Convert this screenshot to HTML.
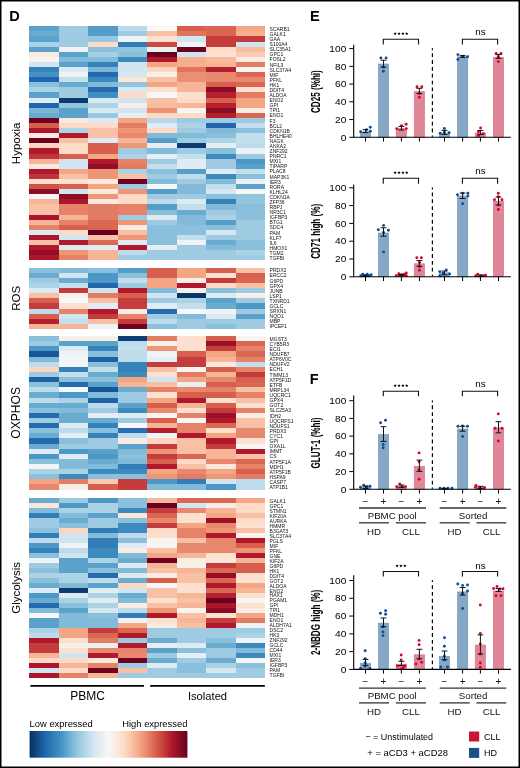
<!DOCTYPE html>
<html><head><meta charset="utf-8"><title>Figure</title>
<style>html,body{margin:0;padding:0;background:#fff;}body{width:520px;height:768px;overflow:hidden;}svg{display:block;will-change:transform;}</style>
</head><body>
<svg width="520" height="768" viewBox="0 0 520 768" font-family="Liberation Sans, sans-serif"><rect x="0" y="0" width="520" height="768" fill="#ffffff"/><g shape-rendering="crispEdges"><rect x="29.20" y="26.30" width="29.81" height="5.39" fill="#5ba2cb"/><rect x="58.71" y="26.30" width="29.81" height="5.39" fill="#9fcbe2"/><rect x="88.23" y="26.30" width="29.81" height="5.39" fill="#539dc8"/><rect x="117.74" y="26.30" width="29.81" height="5.39" fill="#bedbeb"/><rect x="147.25" y="26.30" width="29.81" height="5.39" fill="#f7f7f7"/><rect x="176.76" y="26.30" width="29.81" height="5.39" fill="#d6604d"/><rect x="206.28" y="26.30" width="29.81" height="5.39" fill="#d96752"/><rect x="235.79" y="26.30" width="29.51" height="5.39" fill="#f4a582"/><rect x="29.20" y="31.39" width="29.81" height="5.39" fill="#6aacd0"/><rect x="58.71" y="31.39" width="29.81" height="5.39" fill="#9fcbe2"/><rect x="88.23" y="31.39" width="29.81" height="5.39" fill="#539dc8"/><rect x="117.74" y="31.39" width="29.81" height="5.39" fill="#9fcbe2"/><rect x="147.25" y="31.39" width="29.81" height="5.39" fill="#f8c0a4"/><rect x="176.76" y="31.39" width="29.81" height="5.39" fill="#df755d"/><rect x="206.28" y="31.39" width="29.81" height="5.39" fill="#d96752"/><rect x="235.79" y="31.39" width="29.51" height="5.39" fill="#f6b090"/><rect x="29.20" y="36.48" width="29.81" height="5.39" fill="#5ba2cb"/><rect x="58.71" y="36.48" width="29.81" height="5.39" fill="#9fcbe2"/><rect x="88.23" y="36.48" width="29.81" height="5.39" fill="#98c8e0"/><rect x="117.74" y="36.48" width="29.81" height="5.39" fill="#eff3f6"/><rect x="147.25" y="36.48" width="29.81" height="5.39" fill="#fce1d1"/><rect x="176.76" y="36.48" width="29.81" height="5.39" fill="#d1e5f0"/><rect x="206.28" y="36.48" width="29.81" height="5.39" fill="#c43c3c"/><rect x="235.79" y="36.48" width="29.51" height="5.39" fill="#c43c3c"/><rect x="29.20" y="41.57" width="29.81" height="5.39" fill="#abd2e5"/><rect x="58.71" y="41.57" width="29.81" height="5.39" fill="#9fcbe2"/><rect x="88.23" y="41.57" width="29.81" height="5.39" fill="#fddbc7"/><rect x="117.74" y="41.57" width="29.81" height="5.39" fill="#327cb8"/><rect x="147.25" y="41.57" width="29.81" height="5.39" fill="#cb4a43"/><rect x="176.76" y="41.57" width="29.81" height="5.39" fill="#eff3f6"/><rect x="206.28" y="41.57" width="29.81" height="5.39" fill="#c43c3c"/><rect x="235.79" y="41.57" width="29.51" height="5.39" fill="#d1e5f0"/><rect x="29.20" y="46.66" width="29.81" height="5.39" fill="#5ba2cb"/><rect x="58.71" y="46.66" width="29.81" height="5.39" fill="#eff3f6"/><rect x="88.23" y="46.66" width="29.81" height="5.39" fill="#8ac0db"/><rect x="117.74" y="46.66" width="29.81" height="5.39" fill="#92c5de"/><rect x="147.25" y="46.66" width="29.81" height="5.39" fill="#e8f0f4"/><rect x="176.76" y="46.66" width="29.81" height="5.39" fill="#6e0220"/><rect x="206.28" y="46.66" width="29.81" height="5.39" fill="#fddbc7"/><rect x="235.79" y="46.66" width="29.51" height="5.39" fill="#f8bb9e"/><rect x="29.20" y="51.75" width="29.81" height="5.39" fill="#fae9df"/><rect x="58.71" y="51.75" width="29.81" height="5.39" fill="#5ba2cb"/><rect x="88.23" y="51.75" width="29.81" height="5.39" fill="#a5cfe3"/><rect x="117.74" y="51.75" width="29.81" height="5.39" fill="#8ac0db"/><rect x="147.25" y="51.75" width="29.81" height="5.39" fill="#67001f"/><rect x="176.76" y="51.75" width="29.81" height="5.39" fill="#d1e5f0"/><rect x="206.28" y="51.75" width="29.81" height="5.39" fill="#fce1d1"/><rect x="235.79" y="51.75" width="29.51" height="5.39" fill="#facbb2"/><rect x="29.20" y="56.83" width="29.81" height="5.39" fill="#f8f4f2"/><rect x="58.71" y="56.83" width="29.81" height="5.39" fill="#82bbd9"/><rect x="88.23" y="56.83" width="29.81" height="5.39" fill="#82bbd9"/><rect x="117.74" y="56.83" width="29.81" height="5.39" fill="#3c8abe"/><rect x="147.25" y="56.83" width="29.81" height="5.39" fill="#b2182b"/><rect x="176.76" y="56.83" width="29.81" height="5.39" fill="#f6b090"/><rect x="206.28" y="56.83" width="29.81" height="5.39" fill="#f8bb9e"/><rect x="235.79" y="56.83" width="29.51" height="5.39" fill="#f9ece4"/><rect x="29.20" y="61.92" width="29.81" height="5.39" fill="#d1e5f0"/><rect x="58.71" y="61.92" width="29.81" height="5.39" fill="#5ba2cb"/><rect x="88.23" y="61.92" width="29.81" height="5.39" fill="#3581ba"/><rect x="117.74" y="61.92" width="29.81" height="5.39" fill="#d1e5f0"/><rect x="147.25" y="61.92" width="29.81" height="5.39" fill="#f4a582"/><rect x="176.76" y="61.92" width="29.81" height="5.39" fill="#f6b090"/><rect x="206.28" y="61.92" width="29.81" height="5.39" fill="#f7b597"/><rect x="235.79" y="61.92" width="29.51" height="5.39" fill="#e27c62"/><rect x="29.20" y="67.01" width="29.81" height="5.39" fill="#3581ba"/><rect x="58.71" y="67.01" width="29.81" height="5.39" fill="#dceaf2"/><rect x="88.23" y="67.01" width="29.81" height="5.39" fill="#7ab6d6"/><rect x="117.74" y="67.01" width="29.81" height="5.39" fill="#d1e5f0"/><rect x="147.25" y="67.01" width="29.81" height="5.39" fill="#fcd6c0"/><rect x="176.76" y="67.01" width="29.81" height="5.39" fill="#df755d"/><rect x="206.28" y="67.01" width="29.81" height="5.39" fill="#b61f2e"/><rect x="235.79" y="67.01" width="29.51" height="5.39" fill="#f8f4f2"/><rect x="29.20" y="72.10" width="29.81" height="5.39" fill="#4393c3"/><rect x="58.71" y="72.10" width="29.81" height="5.39" fill="#eff3f6"/><rect x="88.23" y="72.10" width="29.81" height="5.39" fill="#246aae"/><rect x="117.74" y="72.10" width="29.81" height="5.39" fill="#d5e7f1"/><rect x="147.25" y="72.10" width="29.81" height="5.39" fill="#f9efe9"/><rect x="176.76" y="72.10" width="29.81" height="5.39" fill="#eb9072"/><rect x="206.28" y="72.10" width="29.81" height="5.39" fill="#e8896d"/><rect x="235.79" y="72.10" width="29.51" height="5.39" fill="#d96752"/><rect x="29.20" y="77.19" width="29.81" height="5.39" fill="#2166ac"/><rect x="58.71" y="77.19" width="29.81" height="5.39" fill="#c4dfec"/><rect x="88.23" y="77.19" width="29.81" height="5.39" fill="#3c8abe"/><rect x="117.74" y="77.19" width="29.81" height="5.39" fill="#fbe6da"/><rect x="147.25" y="77.19" width="29.81" height="5.39" fill="#f8c0a4"/><rect x="176.76" y="77.19" width="29.81" height="5.39" fill="#eb9072"/><rect x="206.28" y="77.19" width="29.81" height="5.39" fill="#e8896d"/><rect x="235.79" y="77.19" width="29.51" height="5.39" fill="#e8896d"/><rect x="29.20" y="82.28" width="29.81" height="5.39" fill="#8ac0db"/><rect x="58.71" y="82.28" width="29.81" height="5.39" fill="#6aacd0"/><rect x="88.23" y="82.28" width="29.81" height="5.39" fill="#82bbd9"/><rect x="117.74" y="82.28" width="29.81" height="5.39" fill="#92c5de"/><rect x="147.25" y="82.28" width="29.81" height="5.39" fill="#f4a582"/><rect x="176.76" y="82.28" width="29.81" height="5.39" fill="#f7b597"/><rect x="206.28" y="82.28" width="29.81" height="5.39" fill="#d6604d"/><rect x="235.79" y="82.28" width="29.51" height="5.39" fill="#d96752"/><rect x="29.20" y="87.37" width="29.81" height="5.39" fill="#abd2e5"/><rect x="58.71" y="87.37" width="29.81" height="5.39" fill="#9fcbe2"/><rect x="88.23" y="87.37" width="29.81" height="5.39" fill="#246aae"/><rect x="117.74" y="87.37" width="29.81" height="5.39" fill="#d9e9f1"/><rect x="147.25" y="87.37" width="29.81" height="5.39" fill="#fce1d1"/><rect x="176.76" y="87.37" width="29.81" height="5.39" fill="#f7b597"/><rect x="206.28" y="87.37" width="29.81" height="5.39" fill="#8c0c25"/><rect x="235.79" y="87.37" width="29.51" height="5.39" fill="#fce1d1"/><rect x="29.20" y="92.46" width="29.81" height="5.39" fill="#5ba2cb"/><rect x="58.71" y="92.46" width="29.81" height="5.39" fill="#9fcbe2"/><rect x="88.23" y="92.46" width="29.81" height="5.39" fill="#408ec1"/><rect x="117.74" y="92.46" width="29.81" height="5.39" fill="#fddbc7"/><rect x="147.25" y="92.46" width="29.81" height="5.39" fill="#f7f7f7"/><rect x="176.76" y="92.46" width="29.81" height="5.39" fill="#fcdecc"/><rect x="206.28" y="92.46" width="29.81" height="5.39" fill="#b61f2e"/><rect x="235.79" y="92.46" width="29.51" height="5.39" fill="#e27c62"/><rect x="29.20" y="97.55" width="29.81" height="5.39" fill="#e0ecf3"/><rect x="58.71" y="97.55" width="29.81" height="5.39" fill="#0b3b70"/><rect x="88.23" y="97.55" width="29.81" height="5.39" fill="#d9e9f1"/><rect x="117.74" y="97.55" width="29.81" height="5.39" fill="#d1e5f0"/><rect x="147.25" y="97.55" width="29.81" height="5.39" fill="#f8c0a4"/><rect x="176.76" y="97.55" width="29.81" height="5.39" fill="#fddbc7"/><rect x="206.28" y="97.55" width="29.81" height="5.39" fill="#d6604d"/><rect x="235.79" y="97.55" width="29.51" height="5.39" fill="#f4a582"/><rect x="29.20" y="102.64" width="29.81" height="5.39" fill="#2166ac"/><rect x="58.71" y="102.64" width="29.81" height="5.39" fill="#92c5de"/><rect x="88.23" y="102.64" width="29.81" height="5.39" fill="#abd2e5"/><rect x="117.74" y="102.64" width="29.81" height="5.39" fill="#f9ece4"/><rect x="147.25" y="102.64" width="29.81" height="5.39" fill="#f8bb9e"/><rect x="176.76" y="102.64" width="29.81" height="5.39" fill="#f7b597"/><rect x="206.28" y="102.64" width="29.81" height="5.39" fill="#b61f2e"/><rect x="235.79" y="102.64" width="29.51" height="5.39" fill="#f4a582"/><rect x="29.20" y="107.73" width="29.81" height="5.39" fill="#7ab6d6"/><rect x="58.71" y="107.73" width="29.81" height="5.39" fill="#5ba2cb"/><rect x="88.23" y="107.73" width="29.81" height="5.39" fill="#d9e9f1"/><rect x="117.74" y="107.73" width="29.81" height="5.39" fill="#d1e5f0"/><rect x="147.25" y="107.73" width="29.81" height="5.39" fill="#eb9072"/><rect x="176.76" y="107.73" width="29.81" height="5.39" fill="#f8f4f2"/><rect x="206.28" y="107.73" width="29.81" height="5.39" fill="#8c0c25"/><rect x="235.79" y="107.73" width="29.51" height="5.39" fill="#f9ece4"/><rect x="29.20" y="112.82" width="29.81" height="5.39" fill="#6aacd0"/><rect x="58.71" y="112.82" width="29.81" height="5.39" fill="#5ba2cb"/><rect x="88.23" y="112.82" width="29.81" height="5.39" fill="#98c8e0"/><rect x="117.74" y="112.82" width="29.81" height="5.39" fill="#e4eef4"/><rect x="147.25" y="112.82" width="29.81" height="5.39" fill="#fddbc7"/><rect x="176.76" y="112.82" width="29.81" height="5.39" fill="#fddbc7"/><rect x="206.28" y="112.82" width="29.81" height="5.39" fill="#b61f2e"/><rect x="235.79" y="112.82" width="29.51" height="5.39" fill="#d96752"/><rect x="29.20" y="117.90" width="29.81" height="5.39" fill="#6e0220"/><rect x="58.71" y="117.90" width="29.81" height="5.39" fill="#fae9df"/><rect x="88.23" y="117.90" width="29.81" height="5.39" fill="#dceaf2"/><rect x="117.74" y="117.90" width="29.81" height="5.39" fill="#f4a582"/><rect x="147.25" y="117.90" width="29.81" height="5.39" fill="#b8d8e9"/><rect x="176.76" y="117.90" width="29.81" height="5.39" fill="#9fcbe2"/><rect x="206.28" y="117.90" width="29.81" height="5.39" fill="#9fcbe2"/><rect x="235.79" y="117.90" width="29.51" height="5.39" fill="#9fcbe2"/><rect x="29.20" y="122.99" width="29.81" height="5.39" fill="#d6604d"/><rect x="58.71" y="122.99" width="29.81" height="5.39" fill="#fddbc7"/><rect x="88.23" y="122.99" width="29.81" height="5.39" fill="#fddbc7"/><rect x="117.74" y="122.99" width="29.81" height="5.39" fill="#e27c62"/><rect x="147.25" y="122.99" width="29.81" height="5.39" fill="#e0ecf3"/><rect x="176.76" y="122.99" width="29.81" height="5.39" fill="#abd2e5"/><rect x="206.28" y="122.99" width="29.81" height="5.39" fill="#2166ac"/><rect x="235.79" y="122.99" width="29.51" height="5.39" fill="#c4dfec"/><rect x="29.20" y="128.08" width="29.81" height="5.39" fill="#ab162a"/><rect x="58.71" y="128.08" width="29.81" height="5.39" fill="#abd2e5"/><rect x="88.23" y="128.08" width="29.81" height="5.39" fill="#f8c0a4"/><rect x="117.74" y="128.08" width="29.81" height="5.39" fill="#ee9777"/><rect x="147.25" y="128.08" width="29.81" height="5.39" fill="#fddbc7"/><rect x="176.76" y="128.08" width="29.81" height="5.39" fill="#9fcbe2"/><rect x="206.28" y="128.08" width="29.81" height="5.39" fill="#82bbd9"/><rect x="235.79" y="128.08" width="29.51" height="5.39" fill="#8ac0db"/><rect x="29.20" y="133.17" width="29.81" height="5.39" fill="#fae9df"/><rect x="58.71" y="133.17" width="29.81" height="5.39" fill="#b2182b"/><rect x="88.23" y="133.17" width="29.81" height="5.39" fill="#f8c0a4"/><rect x="117.74" y="133.17" width="29.81" height="5.39" fill="#e8896d"/><rect x="147.25" y="133.17" width="29.81" height="5.39" fill="#82bbd9"/><rect x="176.76" y="133.17" width="29.81" height="5.39" fill="#82bbd9"/><rect x="206.28" y="133.17" width="29.81" height="5.39" fill="#8ac0db"/><rect x="235.79" y="133.17" width="29.51" height="5.39" fill="#c4dfec"/><rect x="29.20" y="138.26" width="29.81" height="5.39" fill="#6e0220"/><rect x="58.71" y="138.26" width="29.81" height="5.39" fill="#f8c0a4"/><rect x="88.23" y="138.26" width="29.81" height="5.39" fill="#e0ecf3"/><rect x="117.74" y="138.26" width="29.81" height="5.39" fill="#f7b597"/><rect x="147.25" y="138.26" width="29.81" height="5.39" fill="#539dc8"/><rect x="176.76" y="138.26" width="29.81" height="5.39" fill="#9fcbe2"/><rect x="206.28" y="138.26" width="29.81" height="5.39" fill="#abd2e5"/><rect x="235.79" y="138.26" width="29.51" height="5.39" fill="#c4dfec"/><rect x="29.20" y="143.35" width="29.81" height="5.39" fill="#fcd6c0"/><rect x="58.71" y="143.35" width="29.81" height="5.39" fill="#fddbc7"/><rect x="88.23" y="143.35" width="29.81" height="5.39" fill="#d6604d"/><rect x="117.74" y="143.35" width="29.81" height="5.39" fill="#ee9777"/><rect x="147.25" y="143.35" width="29.81" height="5.39" fill="#e4eef4"/><rect x="176.76" y="143.35" width="29.81" height="5.39" fill="#0b3b70"/><rect x="206.28" y="143.35" width="29.81" height="5.39" fill="#e4eef4"/><rect x="235.79" y="143.35" width="29.51" height="5.39" fill="#bedbeb"/><rect x="29.20" y="148.44" width="29.81" height="5.39" fill="#b2182b"/><rect x="58.71" y="148.44" width="29.81" height="5.39" fill="#fddbc7"/><rect x="88.23" y="148.44" width="29.81" height="5.39" fill="#d6604d"/><rect x="117.74" y="148.44" width="29.81" height="5.39" fill="#9fcbe2"/><rect x="147.25" y="148.44" width="29.81" height="5.39" fill="#82bbd9"/><rect x="176.76" y="148.44" width="29.81" height="5.39" fill="#9fcbe2"/><rect x="206.28" y="148.44" width="29.81" height="5.39" fill="#8ac0db"/><rect x="235.79" y="148.44" width="29.51" height="5.39" fill="#ecf2f5"/><rect x="29.20" y="153.53" width="29.81" height="5.39" fill="#c03539"/><rect x="58.71" y="153.53" width="29.81" height="5.39" fill="#d6604d"/><rect x="88.23" y="153.53" width="29.81" height="5.39" fill="#f4a582"/><rect x="117.74" y="153.53" width="29.81" height="5.39" fill="#abd2e5"/><rect x="147.25" y="153.53" width="29.81" height="5.39" fill="#e4eef4"/><rect x="176.76" y="153.53" width="29.81" height="5.39" fill="#c4dfec"/><rect x="206.28" y="153.53" width="29.81" height="5.39" fill="#3c8abe"/><rect x="235.79" y="153.53" width="29.51" height="5.39" fill="#9fcbe2"/><rect x="29.20" y="158.62" width="29.81" height="5.39" fill="#f7b597"/><rect x="58.71" y="158.62" width="29.81" height="5.39" fill="#d1e5f0"/><rect x="88.23" y="158.62" width="29.81" height="5.39" fill="#b2182b"/><rect x="117.74" y="158.62" width="29.81" height="5.39" fill="#e58268"/><rect x="147.25" y="158.62" width="29.81" height="5.39" fill="#9fcbe2"/><rect x="176.76" y="158.62" width="29.81" height="5.39" fill="#e0ecf3"/><rect x="206.28" y="158.62" width="29.81" height="5.39" fill="#9fcbe2"/><rect x="235.79" y="158.62" width="29.51" height="5.39" fill="#4b98c6"/><rect x="29.20" y="163.71" width="29.81" height="5.39" fill="#fae9df"/><rect x="58.71" y="163.71" width="29.81" height="5.39" fill="#d1e5f0"/><rect x="88.23" y="163.71" width="29.81" height="5.39" fill="#940e26"/><rect x="117.74" y="163.71" width="29.81" height="5.39" fill="#e27c62"/><rect x="147.25" y="163.71" width="29.81" height="5.39" fill="#c4dfec"/><rect x="176.76" y="163.71" width="29.81" height="5.39" fill="#e0ecf3"/><rect x="206.28" y="163.71" width="29.81" height="5.39" fill="#9fcbe2"/><rect x="235.79" y="163.71" width="29.51" height="5.39" fill="#5ba2cb"/><rect x="29.20" y="168.80" width="29.81" height="5.39" fill="#b2182b"/><rect x="58.71" y="168.80" width="29.81" height="5.39" fill="#f4a582"/><rect x="88.23" y="168.80" width="29.81" height="5.39" fill="#ee9777"/><rect x="117.74" y="168.80" width="29.81" height="5.39" fill="#abd2e5"/><rect x="147.25" y="168.80" width="29.81" height="5.39" fill="#8ac0db"/><rect x="176.76" y="168.80" width="29.81" height="5.39" fill="#539dc8"/><rect x="206.28" y="168.80" width="29.81" height="5.39" fill="#e0ecf3"/><rect x="235.79" y="168.80" width="29.51" height="5.39" fill="#c4dfec"/><rect x="29.20" y="173.88" width="29.81" height="5.39" fill="#c03539"/><rect x="58.71" y="173.88" width="29.81" height="5.39" fill="#f8c0a4"/><rect x="88.23" y="173.88" width="29.81" height="5.39" fill="#ee9777"/><rect x="117.74" y="173.88" width="29.81" height="5.39" fill="#f8c0a4"/><rect x="147.25" y="173.88" width="29.81" height="5.39" fill="#9fcbe2"/><rect x="176.76" y="173.88" width="29.81" height="5.39" fill="#bedbeb"/><rect x="206.28" y="173.88" width="29.81" height="5.39" fill="#3c8abe"/><rect x="235.79" y="173.88" width="29.51" height="5.39" fill="#8ac0db"/><rect x="29.20" y="178.97" width="29.81" height="5.39" fill="#fce1d1"/><rect x="58.71" y="178.97" width="29.81" height="5.39" fill="#fce1d1"/><rect x="88.23" y="178.97" width="29.81" height="5.39" fill="#fae9df"/><rect x="117.74" y="178.97" width="29.81" height="5.39" fill="#6e0220"/><rect x="147.25" y="178.97" width="29.81" height="5.39" fill="#82bbd9"/><rect x="176.76" y="178.97" width="29.81" height="5.39" fill="#9fcbe2"/><rect x="206.28" y="178.97" width="29.81" height="5.39" fill="#82bbd9"/><rect x="235.79" y="178.97" width="29.51" height="5.39" fill="#ecf2f5"/><rect x="29.20" y="184.06" width="29.81" height="5.39" fill="#cf5246"/><rect x="58.71" y="184.06" width="29.81" height="5.39" fill="#d6604d"/><rect x="88.23" y="184.06" width="29.81" height="5.39" fill="#f4a582"/><rect x="117.74" y="184.06" width="29.81" height="5.39" fill="#9fcbe2"/><rect x="147.25" y="184.06" width="29.81" height="5.39" fill="#f7f7f7"/><rect x="176.76" y="184.06" width="29.81" height="5.39" fill="#82bbd9"/><rect x="206.28" y="184.06" width="29.81" height="5.39" fill="#c4dfec"/><rect x="235.79" y="184.06" width="29.51" height="5.39" fill="#5ba2cb"/><rect x="29.20" y="189.15" width="29.81" height="5.39" fill="#8c0c25"/><rect x="58.71" y="189.15" width="29.81" height="5.39" fill="#d1e5f0"/><rect x="88.23" y="189.15" width="29.81" height="5.39" fill="#fae9df"/><rect x="117.74" y="189.15" width="29.81" height="5.39" fill="#ee9777"/><rect x="147.25" y="189.15" width="29.81" height="5.39" fill="#539dc8"/><rect x="176.76" y="189.15" width="29.81" height="5.39" fill="#82bbd9"/><rect x="206.28" y="189.15" width="29.81" height="5.39" fill="#d5e7f1"/><rect x="235.79" y="189.15" width="29.51" height="5.39" fill="#f7f7f7"/><rect x="29.20" y="194.24" width="29.81" height="5.39" fill="#f3f5f6"/><rect x="58.71" y="194.24" width="29.81" height="5.39" fill="#8c0c25"/><rect x="88.23" y="194.24" width="29.81" height="5.39" fill="#ee9777"/><rect x="117.74" y="194.24" width="29.81" height="5.39" fill="#fddbc7"/><rect x="147.25" y="194.24" width="29.81" height="5.39" fill="#9fcbe2"/><rect x="176.76" y="194.24" width="29.81" height="5.39" fill="#9fcbe2"/><rect x="206.28" y="194.24" width="29.81" height="5.39" fill="#8ac0db"/><rect x="235.79" y="194.24" width="29.51" height="5.39" fill="#92c5de"/><rect x="29.20" y="199.33" width="29.81" height="5.39" fill="#f7b597"/><rect x="58.71" y="199.33" width="29.81" height="5.39" fill="#ab162a"/><rect x="88.23" y="199.33" width="29.81" height="5.39" fill="#fae9df"/><rect x="117.74" y="199.33" width="29.81" height="5.39" fill="#fddbc7"/><rect x="147.25" y="199.33" width="29.81" height="5.39" fill="#bedbeb"/><rect x="176.76" y="199.33" width="29.81" height="5.39" fill="#dceaf2"/><rect x="206.28" y="199.33" width="29.81" height="5.39" fill="#3581ba"/><rect x="235.79" y="199.33" width="29.51" height="5.39" fill="#92c5de"/><rect x="29.20" y="204.42" width="29.81" height="5.39" fill="#f8c0a4"/><rect x="58.71" y="204.42" width="29.81" height="5.39" fill="#e58268"/><rect x="88.23" y="204.42" width="29.81" height="5.39" fill="#e27c62"/><rect x="117.74" y="204.42" width="29.81" height="5.39" fill="#e58268"/><rect x="147.25" y="204.42" width="29.81" height="5.39" fill="#539dc8"/><rect x="176.76" y="204.42" width="29.81" height="5.39" fill="#c4dfec"/><rect x="206.28" y="204.42" width="29.81" height="5.39" fill="#82bbd9"/><rect x="235.79" y="204.42" width="29.51" height="5.39" fill="#8ac0db"/><rect x="29.20" y="209.51" width="29.81" height="5.39" fill="#f8c0a4"/><rect x="58.71" y="209.51" width="29.81" height="5.39" fill="#e58268"/><rect x="88.23" y="209.51" width="29.81" height="5.39" fill="#e27c62"/><rect x="117.74" y="209.51" width="29.81" height="5.39" fill="#e58268"/><rect x="147.25" y="209.51" width="29.81" height="5.39" fill="#8ac0db"/><rect x="176.76" y="209.51" width="29.81" height="5.39" fill="#6aacd0"/><rect x="206.28" y="209.51" width="29.81" height="5.39" fill="#9fcbe2"/><rect x="235.79" y="209.51" width="29.51" height="5.39" fill="#8ac0db"/><rect x="29.20" y="214.60" width="29.81" height="5.39" fill="#ab162a"/><rect x="58.71" y="214.60" width="29.81" height="5.39" fill="#f7b597"/><rect x="88.23" y="214.60" width="29.81" height="5.39" fill="#e27c62"/><rect x="117.74" y="214.60" width="29.81" height="5.39" fill="#9fcbe2"/><rect x="147.25" y="214.60" width="29.81" height="5.39" fill="#dceaf2"/><rect x="176.76" y="214.60" width="29.81" height="5.39" fill="#82bbd9"/><rect x="206.28" y="214.60" width="29.81" height="5.39" fill="#abd2e5"/><rect x="235.79" y="214.60" width="29.51" height="5.39" fill="#8ac0db"/><rect x="29.20" y="219.69" width="29.81" height="5.39" fill="#f7b597"/><rect x="58.71" y="219.69" width="29.81" height="5.39" fill="#e58268"/><rect x="88.23" y="219.69" width="29.81" height="5.39" fill="#d96752"/><rect x="117.74" y="219.69" width="29.81" height="5.39" fill="#ee9777"/><rect x="147.25" y="219.69" width="29.81" height="5.39" fill="#9fcbe2"/><rect x="176.76" y="219.69" width="29.81" height="5.39" fill="#82bbd9"/><rect x="206.28" y="219.69" width="29.81" height="5.39" fill="#539dc8"/><rect x="235.79" y="219.69" width="29.51" height="5.39" fill="#9fcbe2"/><rect x="29.20" y="224.78" width="29.81" height="5.39" fill="#e58268"/><rect x="58.71" y="224.78" width="29.81" height="5.39" fill="#d6604d"/><rect x="88.23" y="224.78" width="29.81" height="5.39" fill="#d96752"/><rect x="117.74" y="224.78" width="29.81" height="5.39" fill="#f9ece4"/><rect x="147.25" y="224.78" width="29.81" height="5.39" fill="#8ac0db"/><rect x="176.76" y="224.78" width="29.81" height="5.39" fill="#8ac0db"/><rect x="206.28" y="224.78" width="29.81" height="5.39" fill="#8ac0db"/><rect x="235.79" y="224.78" width="29.51" height="5.39" fill="#9fcbe2"/><rect x="29.20" y="229.87" width="29.81" height="5.39" fill="#dceaf2"/><rect x="58.71" y="229.87" width="29.81" height="5.39" fill="#fddbc7"/><rect x="88.23" y="229.87" width="29.81" height="5.39" fill="#67001f"/><rect x="117.74" y="229.87" width="29.81" height="5.39" fill="#f8c0a4"/><rect x="147.25" y="229.87" width="29.81" height="5.39" fill="#8ac0db"/><rect x="176.76" y="229.87" width="29.81" height="5.39" fill="#8ac0db"/><rect x="206.28" y="229.87" width="29.81" height="5.39" fill="#d5e7f1"/><rect x="235.79" y="229.87" width="29.51" height="5.39" fill="#9fcbe2"/><rect x="29.20" y="234.95" width="29.81" height="5.39" fill="#ab162a"/><rect x="58.71" y="234.95" width="29.81" height="5.39" fill="#d1e5f0"/><rect x="88.23" y="234.95" width="29.81" height="5.39" fill="#f8c0a4"/><rect x="117.74" y="234.95" width="29.81" height="5.39" fill="#ee9777"/><rect x="147.25" y="234.95" width="29.81" height="5.39" fill="#8ac0db"/><rect x="176.76" y="234.95" width="29.81" height="5.39" fill="#c4dfec"/><rect x="206.28" y="234.95" width="29.81" height="5.39" fill="#9fcbe2"/><rect x="235.79" y="234.95" width="29.51" height="5.39" fill="#9fcbe2"/><rect x="29.20" y="240.04" width="29.81" height="5.39" fill="#f8c0a4"/><rect x="58.71" y="240.04" width="29.81" height="5.39" fill="#b2182b"/><rect x="88.23" y="240.04" width="29.81" height="5.39" fill="#d96752"/><rect x="117.74" y="240.04" width="29.81" height="5.39" fill="#e0ecf3"/><rect x="147.25" y="240.04" width="29.81" height="5.39" fill="#8ac0db"/><rect x="176.76" y="240.04" width="29.81" height="5.39" fill="#eff3f6"/><rect x="206.28" y="240.04" width="29.81" height="5.39" fill="#6aacd0"/><rect x="235.79" y="240.04" width="29.51" height="5.39" fill="#8ac0db"/><rect x="29.20" y="245.13" width="29.81" height="5.39" fill="#b2182b"/><rect x="58.71" y="245.13" width="29.81" height="5.39" fill="#dceaf2"/><rect x="88.23" y="245.13" width="29.81" height="5.39" fill="#e0ecf3"/><rect x="117.74" y="245.13" width="29.81" height="5.39" fill="#b2182b"/><rect x="147.25" y="245.13" width="29.81" height="5.39" fill="#e4eef4"/><rect x="176.76" y="245.13" width="29.81" height="5.39" fill="#9fcbe2"/><rect x="206.28" y="245.13" width="29.81" height="5.39" fill="#82bbd9"/><rect x="235.79" y="245.13" width="29.51" height="5.39" fill="#8ac0db"/><rect x="29.20" y="250.22" width="29.81" height="5.39" fill="#940e26"/><rect x="58.71" y="250.22" width="29.81" height="5.39" fill="#ee9777"/><rect x="88.23" y="250.22" width="29.81" height="5.39" fill="#f7b597"/><rect x="117.74" y="250.22" width="29.81" height="5.39" fill="#bedbeb"/><rect x="147.25" y="250.22" width="29.81" height="5.39" fill="#9fcbe2"/><rect x="176.76" y="250.22" width="29.81" height="5.39" fill="#9fcbe2"/><rect x="206.28" y="250.22" width="29.81" height="5.39" fill="#9fcbe2"/><rect x="235.79" y="250.22" width="29.51" height="5.39" fill="#abd2e5"/><rect x="29.20" y="255.31" width="29.81" height="5.09" fill="#ab162a"/><rect x="58.71" y="255.31" width="29.81" height="5.09" fill="#e58268"/><rect x="88.23" y="255.31" width="29.81" height="5.09" fill="#f7b597"/><rect x="117.74" y="255.31" width="29.81" height="5.09" fill="#9fcbe2"/><rect x="147.25" y="255.31" width="29.81" height="5.09" fill="#9fcbe2"/><rect x="176.76" y="255.31" width="29.81" height="5.09" fill="#9fcbe2"/><rect x="206.28" y="255.31" width="29.81" height="5.09" fill="#9fcbe2"/><rect x="235.79" y="255.31" width="29.51" height="5.09" fill="#9fcbe2"/><rect x="29.20" y="267.70" width="29.81" height="5.40" fill="#8ac0db"/><rect x="58.71" y="267.70" width="29.81" height="5.40" fill="#82bbd9"/><rect x="88.23" y="267.70" width="29.81" height="5.40" fill="#8ac0db"/><rect x="117.74" y="267.70" width="29.81" height="5.40" fill="#539dc8"/><rect x="147.25" y="267.70" width="29.81" height="5.40" fill="#d6604d"/><rect x="176.76" y="267.70" width="29.81" height="5.40" fill="#f4a582"/><rect x="206.28" y="267.70" width="29.81" height="5.40" fill="#d6604d"/><rect x="235.79" y="267.70" width="29.51" height="5.40" fill="#f8c0a4"/><rect x="29.20" y="272.80" width="29.81" height="5.40" fill="#6aacd0"/><rect x="58.71" y="272.80" width="29.81" height="5.40" fill="#d1e5f0"/><rect x="88.23" y="272.80" width="29.81" height="5.40" fill="#4b98c6"/><rect x="117.74" y="272.80" width="29.81" height="5.40" fill="#8ac0db"/><rect x="147.25" y="272.80" width="29.81" height="5.40" fill="#d6604d"/><rect x="176.76" y="272.80" width="29.81" height="5.40" fill="#f4a582"/><rect x="206.28" y="272.80" width="29.81" height="5.40" fill="#fce1d1"/><rect x="235.79" y="272.80" width="29.51" height="5.40" fill="#d6604d"/><rect x="29.20" y="277.90" width="29.81" height="5.40" fill="#9fcbe2"/><rect x="58.71" y="277.90" width="29.81" height="5.40" fill="#6aacd0"/><rect x="88.23" y="277.90" width="29.81" height="5.40" fill="#4b98c6"/><rect x="117.74" y="277.90" width="29.81" height="5.40" fill="#c4dfec"/><rect x="147.25" y="277.90" width="29.81" height="5.40" fill="#f4a582"/><rect x="176.76" y="277.90" width="29.81" height="5.40" fill="#f9efe9"/><rect x="206.28" y="277.90" width="29.81" height="5.40" fill="#c43c3c"/><rect x="235.79" y="277.90" width="29.51" height="5.40" fill="#d96752"/><rect x="29.20" y="283.00" width="29.81" height="5.40" fill="#abd2e5"/><rect x="58.71" y="283.00" width="29.81" height="5.40" fill="#c4dfec"/><rect x="88.23" y="283.00" width="29.81" height="5.40" fill="#2166ac"/><rect x="117.74" y="283.00" width="29.81" height="5.40" fill="#9fcbe2"/><rect x="147.25" y="283.00" width="29.81" height="5.40" fill="#f4a582"/><rect x="176.76" y="283.00" width="29.81" height="5.40" fill="#b2182b"/><rect x="206.28" y="283.00" width="29.81" height="5.40" fill="#fddbc7"/><rect x="235.79" y="283.00" width="29.51" height="5.40" fill="#f8c0a4"/><rect x="29.20" y="288.10" width="29.81" height="5.40" fill="#dceaf2"/><rect x="58.71" y="288.10" width="29.81" height="5.40" fill="#c43c3c"/><rect x="88.23" y="288.10" width="29.81" height="5.40" fill="#d1e5f0"/><rect x="117.74" y="288.10" width="29.81" height="5.40" fill="#b2182b"/><rect x="147.25" y="288.10" width="29.81" height="5.40" fill="#82bbd9"/><rect x="176.76" y="288.10" width="29.81" height="5.40" fill="#f9efe9"/><rect x="206.28" y="288.10" width="29.81" height="5.40" fill="#8ac0db"/><rect x="235.79" y="288.10" width="29.51" height="5.40" fill="#9fcbe2"/><rect x="29.20" y="293.20" width="29.81" height="5.40" fill="#f8c0a4"/><rect x="58.71" y="293.20" width="29.81" height="5.40" fill="#f8f1ed"/><rect x="88.23" y="293.20" width="29.81" height="5.40" fill="#e27c62"/><rect x="117.74" y="293.20" width="29.81" height="5.40" fill="#d6604d"/><rect x="147.25" y="293.20" width="29.81" height="5.40" fill="#d1e5f0"/><rect x="176.76" y="293.20" width="29.81" height="5.40" fill="#083568"/><rect x="206.28" y="293.20" width="29.81" height="5.40" fill="#dceaf2"/><rect x="235.79" y="293.20" width="29.51" height="5.40" fill="#f9efe9"/><rect x="29.20" y="298.30" width="29.81" height="5.40" fill="#d6604d"/><rect x="58.71" y="298.30" width="29.81" height="5.40" fill="#f7f7f7"/><rect x="88.23" y="298.30" width="29.81" height="5.40" fill="#f8c0a4"/><rect x="117.74" y="298.30" width="29.81" height="5.40" fill="#c43c3c"/><rect x="147.25" y="298.30" width="29.81" height="5.40" fill="#9fcbe2"/><rect x="176.76" y="298.30" width="29.81" height="5.40" fill="#abd2e5"/><rect x="206.28" y="298.30" width="29.81" height="5.40" fill="#5ba2cb"/><rect x="235.79" y="298.30" width="29.51" height="5.40" fill="#9fcbe2"/><rect x="29.20" y="303.40" width="29.81" height="5.40" fill="#c43c3c"/><rect x="58.71" y="303.40" width="29.81" height="5.40" fill="#fce1d1"/><rect x="88.23" y="303.40" width="29.81" height="5.40" fill="#e0ecf3"/><rect x="117.74" y="303.40" width="29.81" height="5.40" fill="#c43c3c"/><rect x="147.25" y="303.40" width="29.81" height="5.40" fill="#e0ecf3"/><rect x="176.76" y="303.40" width="29.81" height="5.40" fill="#c4dfec"/><rect x="206.28" y="303.40" width="29.81" height="5.40" fill="#6aacd0"/><rect x="235.79" y="303.40" width="29.51" height="5.40" fill="#4b98c6"/><rect x="29.20" y="308.50" width="29.81" height="5.40" fill="#bedbeb"/><rect x="58.71" y="308.50" width="29.81" height="5.40" fill="#e58268"/><rect x="88.23" y="308.50" width="29.81" height="5.40" fill="#b2182b"/><rect x="117.74" y="308.50" width="29.81" height="5.40" fill="#f9ece4"/><rect x="147.25" y="308.50" width="29.81" height="5.40" fill="#246aae"/><rect x="176.76" y="308.50" width="29.81" height="5.40" fill="#f7f7f7"/><rect x="206.28" y="308.50" width="29.81" height="5.40" fill="#eff3f6"/><rect x="235.79" y="308.50" width="29.51" height="5.40" fill="#9fcbe2"/><rect x="29.20" y="313.60" width="29.81" height="5.40" fill="#d6604d"/><rect x="58.71" y="313.60" width="29.81" height="5.40" fill="#d1e5f0"/><rect x="88.23" y="313.60" width="29.81" height="5.40" fill="#c43c3c"/><rect x="117.74" y="313.60" width="29.81" height="5.40" fill="#e58268"/><rect x="147.25" y="313.60" width="29.81" height="5.40" fill="#9fcbe2"/><rect x="176.76" y="313.60" width="29.81" height="5.40" fill="#82bbd9"/><rect x="206.28" y="313.60" width="29.81" height="5.40" fill="#dceaf2"/><rect x="235.79" y="313.60" width="29.51" height="5.40" fill="#5ba2cb"/><rect x="29.20" y="318.70" width="29.81" height="5.40" fill="#b61f2e"/><rect x="58.71" y="318.70" width="29.81" height="5.40" fill="#c4dfec"/><rect x="88.23" y="318.70" width="29.81" height="5.40" fill="#f8c0a4"/><rect x="117.74" y="318.70" width="29.81" height="5.40" fill="#c43c3c"/><rect x="147.25" y="318.70" width="29.81" height="5.40" fill="#bedbeb"/><rect x="176.76" y="318.70" width="29.81" height="5.40" fill="#9fcbe2"/><rect x="206.28" y="318.70" width="29.81" height="5.40" fill="#9fcbe2"/><rect x="235.79" y="318.70" width="29.51" height="5.40" fill="#9fcbe2"/><rect x="29.20" y="323.80" width="29.81" height="5.10" fill="#f7b597"/><rect x="58.71" y="323.80" width="29.81" height="5.10" fill="#f7b597"/><rect x="88.23" y="323.80" width="29.81" height="5.10" fill="#eff3f6"/><rect x="117.74" y="323.80" width="29.81" height="5.10" fill="#6e0220"/><rect x="147.25" y="323.80" width="29.81" height="5.10" fill="#8ac0db"/><rect x="176.76" y="323.80" width="29.81" height="5.10" fill="#9fcbe2"/><rect x="206.28" y="323.80" width="29.81" height="5.10" fill="#8ac0db"/><rect x="235.79" y="323.80" width="29.51" height="5.10" fill="#9fcbe2"/><rect x="29.20" y="336.10" width="29.81" height="5.42" fill="#8ac0db"/><rect x="58.71" y="336.10" width="29.81" height="5.42" fill="#f9efe9"/><rect x="88.23" y="336.10" width="29.81" height="5.42" fill="#f9efe9"/><rect x="117.74" y="336.10" width="29.81" height="5.42" fill="#0d4078"/><rect x="147.25" y="336.10" width="29.81" height="5.42" fill="#e27c62"/><rect x="176.76" y="336.10" width="29.81" height="5.42" fill="#fce1d1"/><rect x="206.28" y="336.10" width="29.81" height="5.42" fill="#d6604d"/><rect x="235.79" y="336.10" width="29.51" height="5.42" fill="#f8f4f2"/><rect x="29.20" y="341.22" width="29.81" height="5.42" fill="#9fcbe2"/><rect x="58.71" y="341.22" width="29.81" height="5.42" fill="#5ba2cb"/><rect x="88.23" y="341.22" width="29.81" height="5.42" fill="#5ba2cb"/><rect x="117.74" y="341.22" width="29.81" height="5.42" fill="#bedbeb"/><rect x="147.25" y="341.22" width="29.81" height="5.42" fill="#f9efe9"/><rect x="176.76" y="341.22" width="29.81" height="5.42" fill="#fce1d1"/><rect x="206.28" y="341.22" width="29.81" height="5.42" fill="#9b1127"/><rect x="235.79" y="341.22" width="29.51" height="5.42" fill="#d96752"/><rect x="29.20" y="346.33" width="29.81" height="5.42" fill="#4b98c6"/><rect x="58.71" y="346.33" width="29.81" height="5.42" fill="#dceaf2"/><rect x="88.23" y="346.33" width="29.81" height="5.42" fill="#3581ba"/><rect x="117.74" y="346.33" width="29.81" height="5.42" fill="#c4dfec"/><rect x="147.25" y="346.33" width="29.81" height="5.42" fill="#ee9777"/><rect x="176.76" y="346.33" width="29.81" height="5.42" fill="#fce1d1"/><rect x="206.28" y="346.33" width="29.81" height="5.42" fill="#c43c3c"/><rect x="235.79" y="346.33" width="29.51" height="5.42" fill="#e58268"/><rect x="29.20" y="351.45" width="29.81" height="5.42" fill="#195696"/><rect x="58.71" y="351.45" width="29.81" height="5.42" fill="#eff3f6"/><rect x="88.23" y="351.45" width="29.81" height="5.42" fill="#8ac0db"/><rect x="117.74" y="351.45" width="29.81" height="5.42" fill="#bedbeb"/><rect x="147.25" y="351.45" width="29.81" height="5.42" fill="#eff3f6"/><rect x="176.76" y="351.45" width="29.81" height="5.42" fill="#d6604d"/><rect x="206.28" y="351.45" width="29.81" height="5.42" fill="#f4a582"/><rect x="235.79" y="351.45" width="29.51" height="5.42" fill="#d96752"/><rect x="29.20" y="356.57" width="29.81" height="5.42" fill="#82bbd9"/><rect x="58.71" y="356.57" width="29.81" height="5.42" fill="#f3f5f6"/><rect x="88.23" y="356.57" width="29.81" height="5.42" fill="#1e61a4"/><rect x="117.74" y="356.57" width="29.81" height="5.42" fill="#bedbeb"/><rect x="147.25" y="356.57" width="29.81" height="5.42" fill="#e4eef4"/><rect x="176.76" y="356.57" width="29.81" height="5.42" fill="#c43c3c"/><rect x="206.28" y="356.57" width="29.81" height="5.42" fill="#f7b597"/><rect x="235.79" y="356.57" width="29.51" height="5.42" fill="#e58268"/><rect x="29.20" y="361.68" width="29.81" height="5.42" fill="#bedbeb"/><rect x="58.71" y="361.68" width="29.81" height="5.42" fill="#f3f5f6"/><rect x="88.23" y="361.68" width="29.81" height="5.42" fill="#8ac0db"/><rect x="117.74" y="361.68" width="29.81" height="5.42" fill="#3581ba"/><rect x="147.25" y="361.68" width="29.81" height="5.42" fill="#c43c3c"/><rect x="176.76" y="361.68" width="29.81" height="5.42" fill="#c43c3c"/><rect x="206.28" y="361.68" width="29.81" height="5.42" fill="#fae9df"/><rect x="235.79" y="361.68" width="29.51" height="5.42" fill="#c4dfec"/><rect x="29.20" y="366.80" width="29.81" height="5.42" fill="#fcd6c0"/><rect x="58.71" y="366.80" width="29.81" height="5.42" fill="#3581ba"/><rect x="88.23" y="366.80" width="29.81" height="5.42" fill="#c4dfec"/><rect x="117.74" y="366.80" width="29.81" height="5.42" fill="#3581ba"/><rect x="147.25" y="366.80" width="29.81" height="5.42" fill="#f8c0a4"/><rect x="176.76" y="366.80" width="29.81" height="5.42" fill="#f8f4f2"/><rect x="206.28" y="366.80" width="29.81" height="5.42" fill="#d6604d"/><rect x="235.79" y="366.80" width="29.51" height="5.42" fill="#e58268"/><rect x="29.20" y="371.92" width="29.81" height="5.42" fill="#9fcbe2"/><rect x="58.71" y="371.92" width="29.81" height="5.42" fill="#c4dfec"/><rect x="88.23" y="371.92" width="29.81" height="5.42" fill="#6aacd0"/><rect x="117.74" y="371.92" width="29.81" height="5.42" fill="#3c8abe"/><rect x="147.25" y="371.92" width="29.81" height="5.42" fill="#fce1d1"/><rect x="176.76" y="371.92" width="29.81" height="5.42" fill="#e27c62"/><rect x="206.28" y="371.92" width="29.81" height="5.42" fill="#f7b597"/><rect x="235.79" y="371.92" width="29.51" height="5.42" fill="#c43c3c"/><rect x="29.20" y="377.03" width="29.81" height="5.42" fill="#1e61a4"/><rect x="58.71" y="377.03" width="29.81" height="5.42" fill="#8ac0db"/><rect x="88.23" y="377.03" width="29.81" height="5.42" fill="#8ac0db"/><rect x="117.74" y="377.03" width="29.81" height="5.42" fill="#f4a582"/><rect x="147.25" y="377.03" width="29.81" height="5.42" fill="#d1e5f0"/><rect x="176.76" y="377.03" width="29.81" height="5.42" fill="#f4a582"/><rect x="206.28" y="377.03" width="29.81" height="5.42" fill="#e8896d"/><rect x="235.79" y="377.03" width="29.51" height="5.42" fill="#d6604d"/><rect x="29.20" y="382.15" width="29.81" height="5.42" fill="#8ac0db"/><rect x="58.71" y="382.15" width="29.81" height="5.42" fill="#246aae"/><rect x="88.23" y="382.15" width="29.81" height="5.42" fill="#5ba2cb"/><rect x="117.74" y="382.15" width="29.81" height="5.42" fill="#f7b597"/><rect x="147.25" y="382.15" width="29.81" height="5.42" fill="#f8c0a4"/><rect x="176.76" y="382.15" width="29.81" height="5.42" fill="#e8f0f4"/><rect x="206.28" y="382.15" width="29.81" height="5.42" fill="#d6604d"/><rect x="235.79" y="382.15" width="29.51" height="5.42" fill="#d96752"/><rect x="29.20" y="387.27" width="29.81" height="5.42" fill="#bedbeb"/><rect x="58.71" y="387.27" width="29.81" height="5.42" fill="#f7f7f7"/><rect x="88.23" y="387.27" width="29.81" height="5.42" fill="#195696"/><rect x="117.74" y="387.27" width="29.81" height="5.42" fill="#6aacd0"/><rect x="147.25" y="387.27" width="29.81" height="5.42" fill="#e58268"/><rect x="176.76" y="387.27" width="29.81" height="5.42" fill="#e8896d"/><rect x="206.28" y="387.27" width="29.81" height="5.42" fill="#e58268"/><rect x="235.79" y="387.27" width="29.51" height="5.42" fill="#f8c0a4"/><rect x="29.20" y="392.38" width="29.81" height="5.42" fill="#6aacd0"/><rect x="58.71" y="392.38" width="29.81" height="5.42" fill="#4b98c6"/><rect x="88.23" y="392.38" width="29.81" height="5.42" fill="#82bbd9"/><rect x="117.74" y="392.38" width="29.81" height="5.42" fill="#9fcbe2"/><rect x="147.25" y="392.38" width="29.81" height="5.42" fill="#fce1d1"/><rect x="176.76" y="392.38" width="29.81" height="5.42" fill="#d6604d"/><rect x="206.28" y="392.38" width="29.81" height="5.42" fill="#d6604d"/><rect x="235.79" y="392.38" width="29.51" height="5.42" fill="#e58268"/><rect x="29.20" y="397.50" width="29.81" height="5.42" fill="#bedbeb"/><rect x="58.71" y="397.50" width="29.81" height="5.42" fill="#abd2e5"/><rect x="88.23" y="397.50" width="29.81" height="5.42" fill="#1e61a4"/><rect x="117.74" y="397.50" width="29.81" height="5.42" fill="#9fcbe2"/><rect x="147.25" y="397.50" width="29.81" height="5.42" fill="#f4a582"/><rect x="176.76" y="397.50" width="29.81" height="5.42" fill="#b2182b"/><rect x="206.28" y="397.50" width="29.81" height="5.42" fill="#fce1d1"/><rect x="235.79" y="397.50" width="29.51" height="5.42" fill="#f8c0a4"/><rect x="29.20" y="402.62" width="29.81" height="5.42" fill="#6aacd0"/><rect x="58.71" y="402.62" width="29.81" height="5.42" fill="#6aacd0"/><rect x="88.23" y="402.62" width="29.81" height="5.42" fill="#bedbeb"/><rect x="117.74" y="402.62" width="29.81" height="5.42" fill="#5ba2cb"/><rect x="147.25" y="402.62" width="29.81" height="5.42" fill="#d6604d"/><rect x="176.76" y="402.62" width="29.81" height="5.42" fill="#f7b597"/><rect x="206.28" y="402.62" width="29.81" height="5.42" fill="#d6604d"/><rect x="235.79" y="402.62" width="29.51" height="5.42" fill="#fce1d1"/><rect x="29.20" y="407.73" width="29.81" height="5.42" fill="#8ac0db"/><rect x="58.71" y="407.73" width="29.81" height="5.42" fill="#82bbd9"/><rect x="88.23" y="407.73" width="29.81" height="5.42" fill="#9fcbe2"/><rect x="117.74" y="407.73" width="29.81" height="5.42" fill="#3c8abe"/><rect x="147.25" y="407.73" width="29.81" height="5.42" fill="#e8896d"/><rect x="176.76" y="407.73" width="29.81" height="5.42" fill="#fce1d1"/><rect x="206.28" y="407.73" width="29.81" height="5.42" fill="#c43c3c"/><rect x="235.79" y="407.73" width="29.51" height="5.42" fill="#e58268"/><rect x="29.20" y="412.85" width="29.81" height="5.42" fill="#246aae"/><rect x="58.71" y="412.85" width="29.81" height="5.42" fill="#6aacd0"/><rect x="88.23" y="412.85" width="29.81" height="5.42" fill="#e4eef4"/><rect x="117.74" y="412.85" width="29.81" height="5.42" fill="#dceaf2"/><rect x="147.25" y="412.85" width="29.81" height="5.42" fill="#f8f4f2"/><rect x="176.76" y="412.85" width="29.81" height="5.42" fill="#e58268"/><rect x="206.28" y="412.85" width="29.81" height="5.42" fill="#9b1127"/><rect x="235.79" y="412.85" width="29.51" height="5.42" fill="#f9ece4"/><rect x="29.20" y="417.97" width="29.81" height="5.42" fill="#9fcbe2"/><rect x="58.71" y="417.97" width="29.81" height="5.42" fill="#6aacd0"/><rect x="88.23" y="417.97" width="29.81" height="5.42" fill="#6aacd0"/><rect x="117.74" y="417.97" width="29.81" height="5.42" fill="#9fcbe2"/><rect x="147.25" y="417.97" width="29.81" height="5.42" fill="#d6604d"/><rect x="176.76" y="417.97" width="29.81" height="5.42" fill="#f7f7f7"/><rect x="206.28" y="417.97" width="29.81" height="5.42" fill="#b2182b"/><rect x="235.79" y="417.97" width="29.51" height="5.42" fill="#f8c0a4"/><rect x="29.20" y="423.08" width="29.81" height="5.42" fill="#246aae"/><rect x="58.71" y="423.08" width="29.81" height="5.42" fill="#dceaf2"/><rect x="88.23" y="423.08" width="29.81" height="5.42" fill="#3581ba"/><rect x="117.74" y="423.08" width="29.81" height="5.42" fill="#f7f7f7"/><rect x="147.25" y="423.08" width="29.81" height="5.42" fill="#f7b597"/><rect x="176.76" y="423.08" width="29.81" height="5.42" fill="#e58268"/><rect x="206.28" y="423.08" width="29.81" height="5.42" fill="#d96752"/><rect x="235.79" y="423.08" width="29.51" height="5.42" fill="#f8c0a4"/><rect x="29.20" y="428.20" width="29.81" height="5.42" fill="#8ac0db"/><rect x="58.71" y="428.20" width="29.81" height="5.42" fill="#bedbeb"/><rect x="88.23" y="428.20" width="29.81" height="5.42" fill="#8ac0db"/><rect x="117.74" y="428.20" width="29.81" height="5.42" fill="#286fb1"/><rect x="147.25" y="428.20" width="29.81" height="5.42" fill="#b61f2e"/><rect x="176.76" y="428.20" width="29.81" height="5.42" fill="#e58268"/><rect x="206.28" y="428.20" width="29.81" height="5.42" fill="#fce1d1"/><rect x="235.79" y="428.20" width="29.51" height="5.42" fill="#e8896d"/><rect x="29.20" y="433.32" width="29.81" height="5.42" fill="#6aacd0"/><rect x="58.71" y="433.32" width="29.81" height="5.42" fill="#e4eef4"/><rect x="88.23" y="433.32" width="29.81" height="5.42" fill="#3581ba"/><rect x="117.74" y="433.32" width="29.81" height="5.42" fill="#bedbeb"/><rect x="147.25" y="433.32" width="29.81" height="5.42" fill="#eff3f6"/><rect x="176.76" y="433.32" width="29.81" height="5.42" fill="#b2182b"/><rect x="206.28" y="433.32" width="29.81" height="5.42" fill="#f4a582"/><rect x="235.79" y="433.32" width="29.51" height="5.42" fill="#e8896d"/><rect x="29.20" y="438.43" width="29.81" height="5.42" fill="#246aae"/><rect x="58.71" y="438.43" width="29.81" height="5.42" fill="#8ac0db"/><rect x="88.23" y="438.43" width="29.81" height="5.42" fill="#9fcbe2"/><rect x="117.74" y="438.43" width="29.81" height="5.42" fill="#f9ece4"/><rect x="147.25" y="438.43" width="29.81" height="5.42" fill="#fcd6c0"/><rect x="176.76" y="438.43" width="29.81" height="5.42" fill="#f8c0a4"/><rect x="206.28" y="438.43" width="29.81" height="5.42" fill="#b2182b"/><rect x="235.79" y="438.43" width="29.51" height="5.42" fill="#fce1d1"/><rect x="29.20" y="443.55" width="29.81" height="5.42" fill="#6aacd0"/><rect x="58.71" y="443.55" width="29.81" height="5.42" fill="#9fcbe2"/><rect x="88.23" y="443.55" width="29.81" height="5.42" fill="#9fcbe2"/><rect x="117.74" y="443.55" width="29.81" height="5.42" fill="#5ba2cb"/><rect x="147.25" y="443.55" width="29.81" height="5.42" fill="#c43c3c"/><rect x="176.76" y="443.55" width="29.81" height="5.42" fill="#f8c0a4"/><rect x="206.28" y="443.55" width="29.81" height="5.42" fill="#c43c3c"/><rect x="235.79" y="443.55" width="29.51" height="5.42" fill="#f8f4f2"/><rect x="29.20" y="448.67" width="29.81" height="5.42" fill="#e0ecf3"/><rect x="58.71" y="448.67" width="29.81" height="5.42" fill="#4b98c6"/><rect x="88.23" y="448.67" width="29.81" height="5.42" fill="#5ba2cb"/><rect x="117.74" y="448.67" width="29.81" height="5.42" fill="#82bbd9"/><rect x="147.25" y="448.67" width="29.81" height="5.42" fill="#ee9777"/><rect x="176.76" y="448.67" width="29.81" height="5.42" fill="#f8c0a4"/><rect x="206.28" y="448.67" width="29.81" height="5.42" fill="#f7b597"/><rect x="235.79" y="448.67" width="29.51" height="5.42" fill="#b2182b"/><rect x="29.20" y="453.78" width="29.81" height="5.42" fill="#4b98c6"/><rect x="58.71" y="453.78" width="29.81" height="5.42" fill="#e0ecf3"/><rect x="88.23" y="453.78" width="29.81" height="5.42" fill="#4b98c6"/><rect x="117.74" y="453.78" width="29.81" height="5.42" fill="#8ac0db"/><rect x="147.25" y="453.78" width="29.81" height="5.42" fill="#c43c3c"/><rect x="176.76" y="453.78" width="29.81" height="5.42" fill="#d96752"/><rect x="206.28" y="453.78" width="29.81" height="5.42" fill="#f7b597"/><rect x="235.79" y="453.78" width="29.51" height="5.42" fill="#f8c0a4"/><rect x="29.20" y="458.90" width="29.81" height="5.42" fill="#8ac0db"/><rect x="58.71" y="458.90" width="29.81" height="5.42" fill="#82bbd9"/><rect x="88.23" y="458.90" width="29.81" height="5.42" fill="#6aacd0"/><rect x="117.74" y="458.90" width="29.81" height="5.42" fill="#82bbd9"/><rect x="147.25" y="458.90" width="29.81" height="5.42" fill="#d6604d"/><rect x="176.76" y="458.90" width="29.81" height="5.42" fill="#fddbc7"/><rect x="206.28" y="458.90" width="29.81" height="5.42" fill="#e8896d"/><rect x="235.79" y="458.90" width="29.51" height="5.42" fill="#d96752"/><rect x="29.20" y="464.02" width="29.81" height="5.42" fill="#f3f5f6"/><rect x="58.71" y="464.02" width="29.81" height="5.42" fill="#82bbd9"/><rect x="88.23" y="464.02" width="29.81" height="5.42" fill="#82bbd9"/><rect x="117.74" y="464.02" width="29.81" height="5.42" fill="#327cb8"/><rect x="147.25" y="464.02" width="29.81" height="5.42" fill="#b2182b"/><rect x="176.76" y="464.02" width="29.81" height="5.42" fill="#f8c0a4"/><rect x="206.28" y="464.02" width="29.81" height="5.42" fill="#fbe6da"/><rect x="235.79" y="464.02" width="29.51" height="5.42" fill="#e58268"/><rect x="29.20" y="469.13" width="29.81" height="5.42" fill="#abd2e5"/><rect x="58.71" y="469.13" width="29.81" height="5.42" fill="#abd2e5"/><rect x="88.23" y="469.13" width="29.81" height="5.42" fill="#3c8abe"/><rect x="117.74" y="469.13" width="29.81" height="5.42" fill="#3c8abe"/><rect x="147.25" y="469.13" width="29.81" height="5.42" fill="#f4a582"/><rect x="176.76" y="469.13" width="29.81" height="5.42" fill="#e8896d"/><rect x="206.28" y="469.13" width="29.81" height="5.42" fill="#f4a582"/><rect x="235.79" y="469.13" width="29.51" height="5.42" fill="#d6604d"/><rect x="29.20" y="474.25" width="29.81" height="5.42" fill="#8ac0db"/><rect x="58.71" y="474.25" width="29.81" height="5.42" fill="#3c8abe"/><rect x="88.23" y="474.25" width="29.81" height="5.42" fill="#8ac0db"/><rect x="117.74" y="474.25" width="29.81" height="5.42" fill="#8ac0db"/><rect x="147.25" y="474.25" width="29.81" height="5.42" fill="#ee9777"/><rect x="176.76" y="474.25" width="29.81" height="5.42" fill="#e27c62"/><rect x="206.28" y="474.25" width="29.81" height="5.42" fill="#ee9777"/><rect x="235.79" y="474.25" width="29.51" height="5.42" fill="#e27c62"/><rect x="29.20" y="479.37" width="29.81" height="5.42" fill="#f4a582"/><rect x="58.71" y="479.37" width="29.81" height="5.42" fill="#e27c62"/><rect x="88.23" y="479.37" width="29.81" height="5.42" fill="#facbb2"/><rect x="117.74" y="479.37" width="29.81" height="5.42" fill="#c43c3c"/><rect x="147.25" y="479.37" width="29.81" height="5.42" fill="#4b98c6"/><rect x="176.76" y="479.37" width="29.81" height="5.42" fill="#327cb8"/><rect x="206.28" y="479.37" width="29.81" height="5.42" fill="#d1e5f0"/><rect x="235.79" y="479.37" width="29.51" height="5.42" fill="#bedbeb"/><rect x="29.20" y="484.48" width="29.81" height="5.12" fill="#e8896d"/><rect x="58.71" y="484.48" width="29.81" height="5.12" fill="#f9ece4"/><rect x="88.23" y="484.48" width="29.81" height="5.12" fill="#d6604d"/><rect x="117.74" y="484.48" width="29.81" height="5.12" fill="#c43c3c"/><rect x="147.25" y="484.48" width="29.81" height="5.12" fill="#82bbd9"/><rect x="176.76" y="484.48" width="29.81" height="5.12" fill="#82bbd9"/><rect x="206.28" y="484.48" width="29.81" height="5.12" fill="#4b98c6"/><rect x="235.79" y="484.48" width="29.51" height="5.12" fill="#bedbeb"/><rect x="29.20" y="498.00" width="29.81" height="5.29" fill="#6aacd0"/><rect x="58.71" y="498.00" width="29.81" height="5.29" fill="#9fcbe2"/><rect x="88.23" y="498.00" width="29.81" height="5.29" fill="#4b98c6"/><rect x="117.74" y="498.00" width="29.81" height="5.29" fill="#8ac0db"/><rect x="147.25" y="498.00" width="29.81" height="5.29" fill="#f7b597"/><rect x="176.76" y="498.00" width="29.81" height="5.29" fill="#d96752"/><rect x="206.28" y="498.00" width="29.81" height="5.29" fill="#d96752"/><rect x="235.79" y="498.00" width="29.51" height="5.29" fill="#f4a582"/><rect x="29.20" y="502.99" width="29.81" height="5.29" fill="#fbe6da"/><rect x="58.71" y="502.99" width="29.81" height="5.29" fill="#4b98c6"/><rect x="88.23" y="502.99" width="29.81" height="5.29" fill="#abd2e5"/><rect x="117.74" y="502.99" width="29.81" height="5.29" fill="#8ac0db"/><rect x="147.25" y="502.99" width="29.81" height="5.29" fill="#67001f"/><rect x="176.76" y="502.99" width="29.81" height="5.29" fill="#d1e5f0"/><rect x="206.28" y="502.99" width="29.81" height="5.29" fill="#f9ece4"/><rect x="235.79" y="502.99" width="29.51" height="5.29" fill="#fddbc7"/><rect x="29.20" y="507.99" width="29.81" height="5.29" fill="#82bbd9"/><rect x="58.71" y="507.99" width="29.81" height="5.29" fill="#abd2e5"/><rect x="88.23" y="507.99" width="29.81" height="5.29" fill="#abd2e5"/><rect x="117.74" y="507.99" width="29.81" height="5.29" fill="#3c8abe"/><rect x="147.25" y="507.99" width="29.81" height="5.29" fill="#c43c3c"/><rect x="176.76" y="507.99" width="29.81" height="5.29" fill="#e8896d"/><rect x="206.28" y="507.99" width="29.81" height="5.29" fill="#f7b597"/><rect x="235.79" y="507.99" width="29.51" height="5.29" fill="#fddbc7"/><rect x="29.20" y="512.98" width="29.81" height="5.29" fill="#327cb8"/><rect x="58.71" y="512.98" width="29.81" height="5.29" fill="#82bbd9"/><rect x="88.23" y="512.98" width="29.81" height="5.29" fill="#5ba2cb"/><rect x="117.74" y="512.98" width="29.81" height="5.29" fill="#fbe6da"/><rect x="147.25" y="512.98" width="29.81" height="5.29" fill="#d96752"/><rect x="176.76" y="512.98" width="29.81" height="5.29" fill="#fce1d1"/><rect x="206.28" y="512.98" width="29.81" height="5.29" fill="#f4a582"/><rect x="235.79" y="512.98" width="29.51" height="5.29" fill="#f8c0a4"/><rect x="29.20" y="517.98" width="29.81" height="5.29" fill="#9fcbe2"/><rect x="58.71" y="517.98" width="29.81" height="5.29" fill="#6aacd0"/><rect x="88.23" y="517.98" width="29.81" height="5.29" fill="#9fcbe2"/><rect x="117.74" y="517.98" width="29.81" height="5.29" fill="#8ac0db"/><rect x="147.25" y="517.98" width="29.81" height="5.29" fill="#e8896d"/><rect x="176.76" y="517.98" width="29.81" height="5.29" fill="#fce1d1"/><rect x="206.28" y="517.98" width="29.81" height="5.29" fill="#9b1127"/><rect x="235.79" y="517.98" width="29.51" height="5.29" fill="#fddbc7"/><rect x="29.20" y="522.97" width="29.81" height="5.29" fill="#9fcbe2"/><rect x="58.71" y="522.97" width="29.81" height="5.29" fill="#8ac0db"/><rect x="88.23" y="522.97" width="29.81" height="5.29" fill="#9fcbe2"/><rect x="117.74" y="522.97" width="29.81" height="5.29" fill="#3c8abe"/><rect x="147.25" y="522.97" width="29.81" height="5.29" fill="#c43c3c"/><rect x="176.76" y="522.97" width="29.81" height="5.29" fill="#f4a582"/><rect x="206.28" y="522.97" width="29.81" height="5.29" fill="#e8896d"/><rect x="235.79" y="522.97" width="29.51" height="5.29" fill="#fce1d1"/><rect x="29.20" y="527.97" width="29.81" height="5.29" fill="#8ac0db"/><rect x="58.71" y="527.97" width="29.81" height="5.29" fill="#fcd6c0"/><rect x="88.23" y="527.97" width="29.81" height="5.29" fill="#327cb8"/><rect x="117.74" y="527.97" width="29.81" height="5.29" fill="#3c8abe"/><rect x="147.25" y="527.97" width="29.81" height="5.29" fill="#fddbc7"/><rect x="176.76" y="527.97" width="29.81" height="5.29" fill="#e58268"/><rect x="206.28" y="527.97" width="29.81" height="5.29" fill="#ee9777"/><rect x="235.79" y="527.97" width="29.51" height="5.29" fill="#f8c0a4"/><rect x="29.20" y="532.96" width="29.81" height="5.29" fill="#327cb8"/><rect x="58.71" y="532.96" width="29.81" height="5.29" fill="#d1e5f0"/><rect x="88.23" y="532.96" width="29.81" height="5.29" fill="#82bbd9"/><rect x="117.74" y="532.96" width="29.81" height="5.29" fill="#bedbeb"/><rect x="147.25" y="532.96" width="29.81" height="5.29" fill="#fce1d1"/><rect x="176.76" y="532.96" width="29.81" height="5.29" fill="#e58268"/><rect x="206.28" y="532.96" width="29.81" height="5.29" fill="#b2182b"/><rect x="235.79" y="532.96" width="29.51" height="5.29" fill="#f8f4f2"/><rect x="29.20" y="537.96" width="29.81" height="5.29" fill="#bedbeb"/><rect x="58.71" y="537.96" width="29.81" height="5.29" fill="#d1e5f0"/><rect x="88.23" y="537.96" width="29.81" height="5.29" fill="#327cb8"/><rect x="117.74" y="537.96" width="29.81" height="5.29" fill="#8ac0db"/><rect x="147.25" y="537.96" width="29.81" height="5.29" fill="#f8f4f2"/><rect x="176.76" y="537.96" width="29.81" height="5.29" fill="#f8c0a4"/><rect x="206.28" y="537.96" width="29.81" height="5.29" fill="#e8896d"/><rect x="235.79" y="537.96" width="29.51" height="5.29" fill="#b2182b"/><rect x="29.20" y="542.95" width="29.81" height="5.29" fill="#4b98c6"/><rect x="58.71" y="542.95" width="29.81" height="5.29" fill="#eff3f6"/><rect x="88.23" y="542.95" width="29.81" height="5.29" fill="#327cb8"/><rect x="117.74" y="542.95" width="29.81" height="5.29" fill="#e0ecf3"/><rect x="147.25" y="542.95" width="29.81" height="5.29" fill="#f8f4f2"/><rect x="176.76" y="542.95" width="29.81" height="5.29" fill="#e8896d"/><rect x="206.28" y="542.95" width="29.81" height="5.29" fill="#e8896d"/><rect x="235.79" y="542.95" width="29.51" height="5.29" fill="#d6604d"/><rect x="29.20" y="547.94" width="29.81" height="5.29" fill="#3581ba"/><rect x="58.71" y="547.94" width="29.81" height="5.29" fill="#bedbeb"/><rect x="88.23" y="547.94" width="29.81" height="5.29" fill="#3c8abe"/><rect x="117.74" y="547.94" width="29.81" height="5.29" fill="#f9ece4"/><rect x="147.25" y="547.94" width="29.81" height="5.29" fill="#f8c0a4"/><rect x="176.76" y="547.94" width="29.81" height="5.29" fill="#e8896d"/><rect x="206.28" y="547.94" width="29.81" height="5.29" fill="#e8896d"/><rect x="235.79" y="547.94" width="29.51" height="5.29" fill="#ee9777"/><rect x="29.20" y="552.94" width="29.81" height="5.29" fill="#8ac0db"/><rect x="58.71" y="552.94" width="29.81" height="5.29" fill="#d1e5f0"/><rect x="88.23" y="552.94" width="29.81" height="5.29" fill="#3c8abe"/><rect x="117.74" y="552.94" width="29.81" height="5.29" fill="#82bbd9"/><rect x="147.25" y="552.94" width="29.81" height="5.29" fill="#f4a582"/><rect x="176.76" y="552.94" width="29.81" height="5.29" fill="#f7b597"/><rect x="206.28" y="552.94" width="29.81" height="5.29" fill="#fce1d1"/><rect x="235.79" y="552.94" width="29.51" height="5.29" fill="#b2182b"/><rect x="29.20" y="557.93" width="29.81" height="5.29" fill="#eff3f6"/><rect x="58.71" y="557.93" width="29.81" height="5.29" fill="#5ba2cb"/><rect x="88.23" y="557.93" width="29.81" height="5.29" fill="#abd2e5"/><rect x="117.74" y="557.93" width="29.81" height="5.29" fill="#6aacd0"/><rect x="147.25" y="557.93" width="29.81" height="5.29" fill="#6e0220"/><rect x="176.76" y="557.93" width="29.81" height="5.29" fill="#f9efe9"/><rect x="206.28" y="557.93" width="29.81" height="5.29" fill="#fbe6da"/><rect x="235.79" y="557.93" width="29.51" height="5.29" fill="#f7b597"/><rect x="29.20" y="562.93" width="29.81" height="5.29" fill="#9fcbe2"/><rect x="58.71" y="562.93" width="29.81" height="5.29" fill="#5ba2cb"/><rect x="88.23" y="562.93" width="29.81" height="5.29" fill="#5ba2cb"/><rect x="117.74" y="562.93" width="29.81" height="5.29" fill="#dceaf2"/><rect x="147.25" y="562.93" width="29.81" height="5.29" fill="#f7b597"/><rect x="176.76" y="562.93" width="29.81" height="5.29" fill="#f9efe9"/><rect x="206.28" y="562.93" width="29.81" height="5.29" fill="#c43c3c"/><rect x="235.79" y="562.93" width="29.51" height="5.29" fill="#d6604d"/><rect x="29.20" y="567.92" width="29.81" height="5.29" fill="#8ac0db"/><rect x="58.71" y="567.92" width="29.81" height="5.29" fill="#5ba2cb"/><rect x="88.23" y="567.92" width="29.81" height="5.29" fill="#8ac0db"/><rect x="117.74" y="567.92" width="29.81" height="5.29" fill="#82bbd9"/><rect x="147.25" y="567.92" width="29.81" height="5.29" fill="#f8c0a4"/><rect x="176.76" y="567.92" width="29.81" height="5.29" fill="#f7b597"/><rect x="206.28" y="567.92" width="29.81" height="5.29" fill="#d96752"/><rect x="235.79" y="567.92" width="29.51" height="5.29" fill="#d6604d"/><rect x="29.20" y="572.92" width="29.81" height="5.29" fill="#abd2e5"/><rect x="58.71" y="572.92" width="29.81" height="5.29" fill="#abd2e5"/><rect x="88.23" y="572.92" width="29.81" height="5.29" fill="#246aae"/><rect x="117.74" y="572.92" width="29.81" height="5.29" fill="#dceaf2"/><rect x="147.25" y="572.92" width="29.81" height="5.29" fill="#f9ece4"/><rect x="176.76" y="572.92" width="29.81" height="5.29" fill="#f8c0a4"/><rect x="206.28" y="572.92" width="29.81" height="5.29" fill="#940e26"/><rect x="235.79" y="572.92" width="29.51" height="5.29" fill="#fce1d1"/><rect x="29.20" y="577.91" width="29.81" height="5.29" fill="#8ac0db"/><rect x="58.71" y="577.91" width="29.81" height="5.29" fill="#abd2e5"/><rect x="88.23" y="577.91" width="29.81" height="5.29" fill="#bedbeb"/><rect x="117.74" y="577.91" width="29.81" height="5.29" fill="#6aacd0"/><rect x="147.25" y="577.91" width="29.81" height="5.29" fill="#d6604d"/><rect x="176.76" y="577.91" width="29.81" height="5.29" fill="#f8c0a4"/><rect x="206.28" y="577.91" width="29.81" height="5.29" fill="#d96752"/><rect x="235.79" y="577.91" width="29.51" height="5.29" fill="#fce1d1"/><rect x="29.20" y="582.91" width="29.81" height="5.29" fill="#6aacd0"/><rect x="58.71" y="582.91" width="29.81" height="5.29" fill="#82bbd9"/><rect x="88.23" y="582.91" width="29.81" height="5.29" fill="#5ba2cb"/><rect x="117.74" y="582.91" width="29.81" height="5.29" fill="#fcd6c0"/><rect x="147.25" y="582.91" width="29.81" height="5.29" fill="#f7f7f7"/><rect x="176.76" y="582.91" width="29.81" height="5.29" fill="#fce1d1"/><rect x="206.28" y="582.91" width="29.81" height="5.29" fill="#b2182b"/><rect x="235.79" y="582.91" width="29.51" height="5.29" fill="#f4a582"/><rect x="29.20" y="587.90" width="29.81" height="5.29" fill="#e0ecf3"/><rect x="58.71" y="587.90" width="29.81" height="5.29" fill="#0b3b70"/><rect x="88.23" y="587.90" width="29.81" height="5.29" fill="#e0ecf3"/><rect x="117.74" y="587.90" width="29.81" height="5.29" fill="#d1e5f0"/><rect x="147.25" y="587.90" width="29.81" height="5.29" fill="#f8c0a4"/><rect x="176.76" y="587.90" width="29.81" height="5.29" fill="#fce1d1"/><rect x="206.28" y="587.90" width="29.81" height="5.29" fill="#d96752"/><rect x="235.79" y="587.90" width="29.51" height="5.29" fill="#f7b597"/><rect x="29.20" y="592.89" width="29.81" height="5.29" fill="#4b98c6"/><rect x="58.71" y="592.89" width="29.81" height="5.29" fill="#dceaf2"/><rect x="88.23" y="592.89" width="29.81" height="5.29" fill="#abd2e5"/><rect x="117.74" y="592.89" width="29.81" height="5.29" fill="#6aacd0"/><rect x="147.25" y="592.89" width="29.81" height="5.29" fill="#f8c0a4"/><rect x="176.76" y="592.89" width="29.81" height="5.29" fill="#f7b597"/><rect x="206.28" y="592.89" width="29.81" height="5.29" fill="#b61f2e"/><rect x="235.79" y="592.89" width="29.51" height="5.29" fill="#fce1d1"/><rect x="29.20" y="597.89" width="29.81" height="5.29" fill="#6aacd0"/><rect x="58.71" y="597.89" width="29.81" height="5.29" fill="#abd2e5"/><rect x="88.23" y="597.89" width="29.81" height="5.29" fill="#e0ecf3"/><rect x="117.74" y="597.89" width="29.81" height="5.29" fill="#82bbd9"/><rect x="147.25" y="597.89" width="29.81" height="5.29" fill="#fce1d1"/><rect x="176.76" y="597.89" width="29.81" height="5.29" fill="#f8c0a4"/><rect x="206.28" y="597.89" width="29.81" height="5.29" fill="#67001f"/><rect x="235.79" y="597.89" width="29.51" height="5.29" fill="#f8f4f2"/><rect x="29.20" y="602.88" width="29.81" height="5.29" fill="#246aae"/><rect x="58.71" y="602.88" width="29.81" height="5.29" fill="#8ac0db"/><rect x="88.23" y="602.88" width="29.81" height="5.29" fill="#abd2e5"/><rect x="117.74" y="602.88" width="29.81" height="5.29" fill="#f9ece4"/><rect x="147.25" y="602.88" width="29.81" height="5.29" fill="#f8c0a4"/><rect x="176.76" y="602.88" width="29.81" height="5.29" fill="#f7b597"/><rect x="206.28" y="602.88" width="29.81" height="5.29" fill="#ab162a"/><rect x="235.79" y="602.88" width="29.51" height="5.29" fill="#fce1d1"/><rect x="29.20" y="607.88" width="29.81" height="5.29" fill="#82bbd9"/><rect x="58.71" y="607.88" width="29.81" height="5.29" fill="#5ba2cb"/><rect x="88.23" y="607.88" width="29.81" height="5.29" fill="#d5e7f1"/><rect x="117.74" y="607.88" width="29.81" height="5.29" fill="#bedbeb"/><rect x="147.25" y="607.88" width="29.81" height="5.29" fill="#ee9777"/><rect x="176.76" y="607.88" width="29.81" height="5.29" fill="#f8f4f2"/><rect x="206.28" y="607.88" width="29.81" height="5.29" fill="#8c0c25"/><rect x="235.79" y="607.88" width="29.51" height="5.29" fill="#f9ece4"/><rect x="29.20" y="612.87" width="29.81" height="5.29" fill="#f7f7f7"/><rect x="58.71" y="612.87" width="29.81" height="5.29" fill="#82bbd9"/><rect x="88.23" y="612.87" width="29.81" height="5.29" fill="#8ac0db"/><rect x="117.74" y="612.87" width="29.81" height="5.29" fill="#327cb8"/><rect x="147.25" y="612.87" width="29.81" height="5.29" fill="#b2182b"/><rect x="176.76" y="612.87" width="29.81" height="5.29" fill="#f8c0a4"/><rect x="206.28" y="612.87" width="29.81" height="5.29" fill="#fce1d1"/><rect x="235.79" y="612.87" width="29.51" height="5.29" fill="#f4a582"/><rect x="29.20" y="617.87" width="29.81" height="5.29" fill="#5ba2cb"/><rect x="58.71" y="617.87" width="29.81" height="5.29" fill="#82bbd9"/><rect x="88.23" y="617.87" width="29.81" height="5.29" fill="#82bbd9"/><rect x="117.74" y="617.87" width="29.81" height="5.29" fill="#eff3f6"/><rect x="147.25" y="617.87" width="29.81" height="5.29" fill="#fce1d1"/><rect x="176.76" y="617.87" width="29.81" height="5.29" fill="#f7b597"/><rect x="206.28" y="617.87" width="29.81" height="5.29" fill="#c43c3c"/><rect x="235.79" y="617.87" width="29.51" height="5.29" fill="#e27c62"/><rect x="29.20" y="622.86" width="29.81" height="5.29" fill="#5ba2cb"/><rect x="58.71" y="622.86" width="29.81" height="5.29" fill="#82bbd9"/><rect x="88.23" y="622.86" width="29.81" height="5.29" fill="#82bbd9"/><rect x="117.74" y="622.86" width="29.81" height="5.29" fill="#f4a582"/><rect x="147.25" y="622.86" width="29.81" height="5.29" fill="#f9ece4"/><rect x="176.76" y="622.86" width="29.81" height="5.29" fill="#f8c0a4"/><rect x="206.28" y="622.86" width="29.81" height="5.29" fill="#b2182b"/><rect x="235.79" y="622.86" width="29.51" height="5.29" fill="#eff3f6"/><rect x="29.20" y="627.86" width="29.81" height="5.29" fill="#abd2e5"/><rect x="58.71" y="627.86" width="29.81" height="5.29" fill="#f4a582"/><rect x="88.23" y="627.86" width="29.81" height="5.29" fill="#c43c3c"/><rect x="117.74" y="627.86" width="29.81" height="5.29" fill="#d96752"/><rect x="147.25" y="627.86" width="29.81" height="5.29" fill="#9fcbe2"/><rect x="176.76" y="627.86" width="29.81" height="5.29" fill="#9fcbe2"/><rect x="206.28" y="627.86" width="29.81" height="5.29" fill="#9fcbe2"/><rect x="235.79" y="627.86" width="29.51" height="5.29" fill="#9fcbe2"/><rect x="29.20" y="632.85" width="29.81" height="5.29" fill="#bedbeb"/><rect x="58.71" y="632.85" width="29.81" height="5.29" fill="#f4a582"/><rect x="88.23" y="632.85" width="29.81" height="5.29" fill="#d96752"/><rect x="117.74" y="632.85" width="29.81" height="5.29" fill="#b2182b"/><rect x="147.25" y="632.85" width="29.81" height="5.29" fill="#9fcbe2"/><rect x="176.76" y="632.85" width="29.81" height="5.29" fill="#9fcbe2"/><rect x="206.28" y="632.85" width="29.81" height="5.29" fill="#9fcbe2"/><rect x="235.79" y="632.85" width="29.51" height="5.29" fill="#abd2e5"/><rect x="29.20" y="637.84" width="29.81" height="5.29" fill="#b2182b"/><rect x="58.71" y="637.84" width="29.81" height="5.29" fill="#fce1d1"/><rect x="88.23" y="637.84" width="29.81" height="5.29" fill="#e27c62"/><rect x="117.74" y="637.84" width="29.81" height="5.29" fill="#9fcbe2"/><rect x="147.25" y="637.84" width="29.81" height="5.29" fill="#6aacd0"/><rect x="176.76" y="637.84" width="29.81" height="5.29" fill="#9fcbe2"/><rect x="206.28" y="637.84" width="29.81" height="5.29" fill="#8ac0db"/><rect x="235.79" y="637.84" width="29.51" height="5.29" fill="#eff3f6"/><rect x="29.20" y="642.84" width="29.81" height="5.29" fill="#c43c3c"/><rect x="58.71" y="642.84" width="29.81" height="5.29" fill="#f9efe9"/><rect x="88.23" y="642.84" width="29.81" height="5.29" fill="#e8f0f4"/><rect x="117.74" y="642.84" width="29.81" height="5.29" fill="#b2182b"/><rect x="147.25" y="642.84" width="29.81" height="5.29" fill="#e4eef4"/><rect x="176.76" y="642.84" width="29.81" height="5.29" fill="#dceaf2"/><rect x="206.28" y="642.84" width="29.81" height="5.29" fill="#6aacd0"/><rect x="235.79" y="642.84" width="29.51" height="5.29" fill="#3c8abe"/><rect x="29.20" y="647.83" width="29.81" height="5.29" fill="#c43c3c"/><rect x="58.71" y="647.83" width="29.81" height="5.29" fill="#fce1d1"/><rect x="88.23" y="647.83" width="29.81" height="5.29" fill="#e8896d"/><rect x="117.74" y="647.83" width="29.81" height="5.29" fill="#e58268"/><rect x="147.25" y="647.83" width="29.81" height="5.29" fill="#5ba2cb"/><rect x="176.76" y="647.83" width="29.81" height="5.29" fill="#8ac0db"/><rect x="206.28" y="647.83" width="29.81" height="5.29" fill="#9fcbe2"/><rect x="235.79" y="647.83" width="29.51" height="5.29" fill="#82bbd9"/><rect x="29.20" y="652.83" width="29.81" height="5.29" fill="#f7b597"/><rect x="58.71" y="652.83" width="29.81" height="5.29" fill="#d1e5f0"/><rect x="88.23" y="652.83" width="29.81" height="5.29" fill="#b2182b"/><rect x="117.74" y="652.83" width="29.81" height="5.29" fill="#e8896d"/><rect x="147.25" y="652.83" width="29.81" height="5.29" fill="#9fcbe2"/><rect x="176.76" y="652.83" width="29.81" height="5.29" fill="#e4eef4"/><rect x="206.28" y="652.83" width="29.81" height="5.29" fill="#9fcbe2"/><rect x="235.79" y="652.83" width="29.51" height="5.29" fill="#3c8abe"/><rect x="29.20" y="657.82" width="29.81" height="5.29" fill="#fddbc7"/><rect x="58.71" y="657.82" width="29.81" height="5.29" fill="#fddbc7"/><rect x="88.23" y="657.82" width="29.81" height="5.29" fill="#fae9df"/><rect x="117.74" y="657.82" width="29.81" height="5.29" fill="#6e0220"/><rect x="147.25" y="657.82" width="29.81" height="5.29" fill="#6aacd0"/><rect x="176.76" y="657.82" width="29.81" height="5.29" fill="#9fcbe2"/><rect x="206.28" y="657.82" width="29.81" height="5.29" fill="#6aacd0"/><rect x="235.79" y="657.82" width="29.51" height="5.29" fill="#f3f5f6"/><rect x="29.20" y="662.82" width="29.81" height="5.29" fill="#ab162a"/><rect x="58.71" y="662.82" width="29.81" height="5.29" fill="#f7b597"/><rect x="88.23" y="662.82" width="29.81" height="5.29" fill="#e58268"/><rect x="117.74" y="662.82" width="29.81" height="5.29" fill="#9fcbe2"/><rect x="147.25" y="662.82" width="29.81" height="5.29" fill="#e0ecf3"/><rect x="176.76" y="662.82" width="29.81" height="5.29" fill="#8ac0db"/><rect x="206.28" y="662.82" width="29.81" height="5.29" fill="#abd2e5"/><rect x="235.79" y="662.82" width="29.51" height="5.29" fill="#8ac0db"/><rect x="29.20" y="667.81" width="29.81" height="5.29" fill="#d1e5f0"/><rect x="58.71" y="667.81" width="29.81" height="5.29" fill="#fddbc7"/><rect x="88.23" y="667.81" width="29.81" height="5.29" fill="#6e0220"/><rect x="117.74" y="667.81" width="29.81" height="5.29" fill="#f8c0a4"/><rect x="147.25" y="667.81" width="29.81" height="5.29" fill="#9fcbe2"/><rect x="176.76" y="667.81" width="29.81" height="5.29" fill="#8ac0db"/><rect x="206.28" y="667.81" width="29.81" height="5.29" fill="#d5e7f1"/><rect x="235.79" y="667.81" width="29.51" height="5.29" fill="#9fcbe2"/><rect x="29.20" y="672.81" width="29.81" height="4.99" fill="#ab162a"/><rect x="58.71" y="672.81" width="29.81" height="4.99" fill="#e58268"/><rect x="88.23" y="672.81" width="29.81" height="4.99" fill="#f7b597"/><rect x="117.74" y="672.81" width="29.81" height="4.99" fill="#9fcbe2"/><rect x="147.25" y="672.81" width="29.81" height="4.99" fill="#9fcbe2"/><rect x="176.76" y="672.81" width="29.81" height="4.99" fill="#9fcbe2"/><rect x="206.28" y="672.81" width="29.81" height="4.99" fill="#9fcbe2"/><rect x="235.79" y="672.81" width="29.51" height="4.99" fill="#9fcbe2"/></g><g font-size="5" fill="#111"><text x="269.6" y="30.94">SCARB1</text><text x="269.6" y="36.03">GALK1</text><text x="269.6" y="41.12">GAA</text><text x="269.6" y="46.21">S100A4</text><text x="269.6" y="51.30">SLC35A1</text><text x="269.6" y="56.39">GPC1</text><text x="269.6" y="61.48">FOSL2</text><text x="269.6" y="66.57">NFIL3</text><text x="269.6" y="71.66">SLC37A4</text><text x="269.6" y="76.75">MIF</text><text x="269.6" y="81.84">PFKL</text><text x="269.6" y="86.92">HK1</text><text x="269.6" y="92.01">DDIT4</text><text x="269.6" y="97.10">ALDOA</text><text x="269.6" y="102.19">ENO2</text><text x="269.6" y="107.28">GPI</text><text x="269.6" y="112.37">TPI1</text><text x="269.6" y="117.46">ENO1</text><text x="269.6" y="122.55">F3</text><text x="269.6" y="127.64">BCL2</text><text x="269.6" y="132.73">CDKN1B</text><text x="269.6" y="137.82">BHLHE40</text><text x="269.6" y="142.91">NAGK</text><text x="269.6" y="147.99">ANXA2</text><text x="269.6" y="153.08">ZNF292</text><text x="269.6" y="158.17">PNRC1</text><text x="269.6" y="163.26">MXI1</text><text x="269.6" y="168.35">TIPARP</text><text x="269.6" y="173.44">PLAC8</text><text x="269.6" y="178.53">MAP3K1</text><text x="269.6" y="183.62">IER3</text><text x="269.6" y="188.71">RORA</text><text x="269.6" y="193.80">KLHL24</text><text x="269.6" y="198.89">CDKN1A</text><text x="269.6" y="203.97">ZFP36</text><text x="269.6" y="209.06">RBPJ</text><text x="269.6" y="214.15">NR3C1</text><text x="269.6" y="219.24">IGFBP3</text><text x="269.6" y="224.33">BTG1</text><text x="269.6" y="229.42">SDC4</text><text x="269.6" y="234.51">PAM</text><text x="269.6" y="239.60">KLF7</text><text x="269.6" y="244.69">IL6</text><text x="269.6" y="249.78">HMOX1</text><text x="269.6" y="254.87">TGM2</text><text x="269.6" y="259.96">TGFBI</text><text x="269.6" y="272.35">PRDX2</text><text x="269.6" y="277.45">ERCC2</text><text x="269.6" y="282.55">G6PD</text><text x="269.6" y="287.65">GPX4</text><text x="269.6" y="292.75">JUNB</text><text x="269.6" y="297.85">LSP1</text><text x="269.6" y="302.95">TXNRD1</text><text x="269.6" y="308.05">GCLC</text><text x="269.6" y="313.15">SRXN1</text><text x="269.6" y="318.25">NQO1</text><text x="269.6" y="323.35">MBP</text><text x="269.6" y="328.45">IPCEF1</text><text x="269.6" y="340.76">MGST3</text><text x="269.6" y="345.88">CYB5R3</text><text x="269.6" y="350.99">ECI1</text><text x="269.6" y="356.11">NDUFB7</text><text x="269.6" y="361.23">ATP6V0C</text><text x="269.6" y="366.34">NDUFV2</text><text x="269.6" y="371.46">ECH1</text><text x="269.6" y="376.58">TIMM13</text><text x="269.6" y="381.69">ATP5F1D</text><text x="269.6" y="386.81">ETFB</text><text x="269.6" y="391.93">MRPL34</text><text x="269.6" y="397.04">UQCRC1</text><text x="269.6" y="402.16">GPX4</text><text x="269.6" y="407.28">GOT2</text><text x="269.6" y="412.39">SLC25A3</text><text x="269.6" y="417.51">IDH2</text><text x="269.6" y="422.63">UQCRFS1</text><text x="269.6" y="427.74">NDUFS1</text><text x="269.6" y="432.86">PRDX3</text><text x="269.6" y="437.98">CYC1</text><text x="269.6" y="443.09">GPI</text><text x="269.6" y="448.21">OXA1L</text><text x="269.6" y="453.33">IMMT</text><text x="269.6" y="458.44">CS</text><text x="269.6" y="463.56">ATP5F1A</text><text x="269.6" y="468.68">MDH1</text><text x="269.6" y="473.79">ATP5F1B</text><text x="269.6" y="478.91">HSPA9</text><text x="269.6" y="484.03">CASP7</text><text x="269.6" y="489.14">ATP1B1</text><text x="269.6" y="502.60">GALK1</text><text x="269.6" y="507.59">GPC1</text><text x="269.6" y="512.59">STMN1</text><text x="269.6" y="517.58">KIF20A</text><text x="269.6" y="522.58">AURKA</text><text x="269.6" y="527.57">HMMR</text><text x="269.6" y="532.56">B3GAT3</text><text x="269.6" y="537.56">SLC37A4</text><text x="269.6" y="542.55">PGLS</text><text x="269.6" y="547.55">MIF</text><text x="269.6" y="552.54">PFKL</text><text x="269.6" y="557.54">GNE</text><text x="269.6" y="562.53">KIF2A</text><text x="269.6" y="567.52">G6PD</text><text x="269.6" y="572.52">HK1</text><text x="269.6" y="577.51">DDIT4</text><text x="269.6" y="582.51">GOT2</text><text x="269.6" y="587.50">ALDOA</text><text x="269.6" y="592.50">ENO2</text><text x="269.6" y="597.49">HAX1</text><text x="269.6" y="602.49">PGAM1</text><text x="269.6" y="607.48">GPI</text><text x="269.6" y="612.48">TPI1</text><text x="269.6" y="617.47">MDH1</text><text x="269.6" y="622.46">ENO1</text><text x="269.6" y="627.46">ALDH7A1</text><text x="269.6" y="632.45">DSC2</text><text x="269.6" y="637.45">HK3</text><text x="269.6" y="642.44">ZNF292</text><text x="269.6" y="647.44">GCLC</text><text x="269.6" y="652.43">CD44</text><text x="269.6" y="657.42">MXI1</text><text x="269.6" y="662.42">IER3</text><text x="269.6" y="667.41">IGFBP3</text><text x="269.6" y="672.41">PAM</text><text x="269.6" y="677.40">TGFBI</text></g><g font-size="11.5" fill="#000" text-anchor="middle"><text transform="translate(20.2 143.35) rotate(-90)" x="0" y="0" font-size="11.5">Hypoxia</text><text transform="translate(20.2 298.30) rotate(-90)" x="0" y="0" font-size="11.5">ROS</text><text transform="translate(20.2 412.85) rotate(-90)" x="0" y="0" font-size="12.1">OXPHOS</text><text transform="translate(20.2 587.90) rotate(-90)" x="0" y="0" font-size="11.5">Glycolysis</text></g><text x="9.3" y="20.6" font-size="14.5" font-weight="bold">D</text><text x="310" y="20.6" font-size="14.5" font-weight="bold">E</text><text x="309.8" y="383.8" font-size="14.5" font-weight="bold">F</text><line x1="30.4" y1="685.9" x2="144" y2="685.9" stroke="#000" stroke-width="1.6"/><line x1="150.2" y1="685.9" x2="264.8" y2="685.9" stroke="#000" stroke-width="1.6"/><text x="87.5" y="700.2" font-size="12" text-anchor="middle">PBMC</text><text x="207.5" y="700.0" font-size="11.2" text-anchor="middle">Isolated</text><text x="29.6" y="727.4" font-size="9.4">Low expressed</text><text x="187.4" y="727.4" font-size="9.4" text-anchor="end">High expressed</text><defs><linearGradient id="cb" x1="0" x2="1" y1="0" y2="0"><stop offset="0.00" stop-color="#053061"/><stop offset="0.10" stop-color="#2166ac"/><stop offset="0.20" stop-color="#4393c3"/><stop offset="0.30" stop-color="#92c5de"/><stop offset="0.40" stop-color="#d1e5f0"/><stop offset="0.50" stop-color="#f7f7f7"/><stop offset="0.60" stop-color="#fddbc7"/><stop offset="0.70" stop-color="#f4a582"/><stop offset="0.80" stop-color="#d6604d"/><stop offset="0.90" stop-color="#b2182b"/><stop offset="1.00" stop-color="#67001f"/></linearGradient></defs><rect x="29.6" y="731" width="157.8" height="26.7" fill="url(#cb)"/><g><rect x="360.30" y="131.80" width="10.40" height="5.50" fill="#86a7c5" stroke="#6f96ba" stroke-width="0.6"/><circle cx="360.60" cy="131.70" r="1.45" fill="#0b4d96"/><circle cx="366.50" cy="129.70" r="1.45" fill="#0b4d96"/><circle cx="370.30" cy="127.20" r="1.45" fill="#0b4d96"/><circle cx="370.30" cy="131.30" r="1.45" fill="#0b4d96"/><path d="M365.50 129.60V132.60M362.60 129.60H368.40M362.60 132.60H368.40" stroke="#111" stroke-width="1" fill="none"/><rect x="378.30" y="64.00" width="10.40" height="73.30" fill="#86a7c5" stroke="#6f96ba" stroke-width="0.6"/><circle cx="380.90" cy="57.90" r="1.45" fill="#0b4d96"/><circle cx="386.10" cy="57.90" r="1.45" fill="#0b4d96"/><circle cx="383.40" cy="67.10" r="1.45" fill="#0b4d96"/><circle cx="383.40" cy="71.30" r="1.45" fill="#0b4d96"/><path d="M383.50 60.20V67.10M380.60 60.20H386.40M380.60 67.10H386.40" stroke="#111" stroke-width="1" fill="none"/><rect x="396.20" y="128.60" width="10.40" height="8.70" fill="#e08797" stroke="#d5718a" stroke-width="0.6"/><circle cx="396.80" cy="128.70" r="1.45" fill="#d4062c"/><circle cx="401.50" cy="125.70" r="1.45" fill="#d4062c"/><circle cx="406.10" cy="124.30" r="1.45" fill="#d4062c"/><circle cx="406.30" cy="128.60" r="1.45" fill="#d4062c"/><path d="M401.40 126.40V130.00M398.50 126.40H404.30M398.50 130.00H404.30" stroke="#111" stroke-width="1" fill="none"/><rect x="414.20" y="91.40" width="10.40" height="45.90" fill="#e08797" stroke="#d5718a" stroke-width="0.6"/><circle cx="417.00" cy="86.80" r="1.45" fill="#d4062c"/><circle cx="421.80" cy="86.80" r="1.45" fill="#d4062c"/><circle cx="419.30" cy="93.60" r="1.45" fill="#d4062c"/><circle cx="419.30" cy="97.30" r="1.45" fill="#d4062c"/><path d="M419.40 88.30V93.50M416.50 88.30H422.30M416.50 93.50H422.30" stroke="#111" stroke-width="1" fill="none"/><rect x="439.30" y="133.20" width="10.40" height="4.10" fill="#86a7c5" stroke="#6f96ba" stroke-width="0.6"/><circle cx="444.40" cy="128.50" r="1.45" fill="#0b4d96"/><circle cx="440.20" cy="133.20" r="1.45" fill="#0b4d96"/><circle cx="449.10" cy="132.80" r="1.45" fill="#0b4d96"/><circle cx="444.40" cy="132.30" r="1.45" fill="#0b4d96"/><path d="M444.50 130.40V134.40M441.60 130.40H447.40M441.60 134.40H447.40" stroke="#111" stroke-width="1" fill="none"/><rect x="457.40" y="56.80" width="10.40" height="80.50" fill="#86a7c5" stroke="#6f96ba" stroke-width="0.6"/><circle cx="457.90" cy="54.60" r="1.45" fill="#0b4d96"/><circle cx="457.90" cy="59.50" r="1.45" fill="#0b4d96"/><circle cx="462.80" cy="56.20" r="1.45" fill="#0b4d96"/><circle cx="467.60" cy="56.80" r="1.45" fill="#0b4d96"/><path d="M462.60 55.60V57.40M459.70 55.60H465.50M459.70 57.40H465.50" stroke="#111" stroke-width="1" fill="none"/><rect x="475.20" y="133.00" width="10.40" height="4.30" fill="#e08797" stroke="#d5718a" stroke-width="0.6"/><circle cx="480.60" cy="128.00" r="1.45" fill="#d4062c"/><circle cx="478.40" cy="131.90" r="1.45" fill="#d4062c"/><circle cx="483.30" cy="133.60" r="1.45" fill="#d4062c"/><circle cx="478.40" cy="135.50" r="1.45" fill="#d4062c"/><path d="M480.40 130.50V134.60M477.50 130.50H483.30M477.50 134.60H483.30" stroke="#111" stroke-width="1" fill="none"/><rect x="493.30" y="57.30" width="10.40" height="80.00" fill="#e08797" stroke="#d5718a" stroke-width="0.6"/><circle cx="496.10" cy="53.50" r="1.45" fill="#d4062c"/><circle cx="501.00" cy="53.50" r="1.45" fill="#d4062c"/><circle cx="498.30" cy="56.80" r="1.45" fill="#d4062c"/><circle cx="498.30" cy="61.60" r="1.45" fill="#d4062c"/><path d="M498.50 54.60V58.30M495.60 54.60H501.40M495.60 58.30H501.40" stroke="#111" stroke-width="1" fill="none"/><path d="M353.7 44.80V137.30H510.9" stroke="#000" stroke-width="1.1" fill="none"/><line x1="349.30" y1="137.30" x2="353.70" y2="137.30" stroke="#000" stroke-width="1"/><text transform="translate(346.3 140.50) scale(1.07 1)" font-size="9.5" text-anchor="end">0</text><line x1="349.30" y1="119.56" x2="353.70" y2="119.56" stroke="#000" stroke-width="1"/><text transform="translate(346.3 122.76) scale(1.07 1)" font-size="9.5" text-anchor="end">20</text><line x1="349.30" y1="101.82" x2="353.70" y2="101.82" stroke="#000" stroke-width="1"/><text transform="translate(346.3 105.02) scale(1.07 1)" font-size="9.5" text-anchor="end">40</text><line x1="349.30" y1="84.08" x2="353.70" y2="84.08" stroke="#000" stroke-width="1"/><text transform="translate(346.3 87.28) scale(1.07 1)" font-size="9.5" text-anchor="end">60</text><line x1="349.30" y1="66.34" x2="353.70" y2="66.34" stroke="#000" stroke-width="1"/><text transform="translate(346.3 69.54) scale(1.07 1)" font-size="9.5" text-anchor="end">80</text><line x1="349.30" y1="48.60" x2="353.70" y2="48.60" stroke="#000" stroke-width="1"/><text transform="translate(346.3 51.80) scale(1.07 1)" font-size="9.5" text-anchor="end">100</text><line x1="365.50" y1="137.30" x2="365.50" y2="141.50" stroke="#000" stroke-width="1"/><line x1="383.50" y1="137.30" x2="383.50" y2="141.50" stroke="#000" stroke-width="1"/><line x1="401.40" y1="137.30" x2="401.40" y2="141.50" stroke="#000" stroke-width="1"/><line x1="419.40" y1="137.30" x2="419.40" y2="141.50" stroke="#000" stroke-width="1"/><line x1="444.50" y1="137.30" x2="444.50" y2="141.50" stroke="#000" stroke-width="1"/><line x1="462.60" y1="137.30" x2="462.60" y2="141.50" stroke="#000" stroke-width="1"/><line x1="480.40" y1="137.30" x2="480.40" y2="141.50" stroke="#000" stroke-width="1"/><line x1="498.50" y1="137.30" x2="498.50" y2="141.50" stroke="#000" stroke-width="1"/><line x1="432.4" y1="48.30" x2="432.4" y2="136.80" stroke="#000" stroke-width="1.2" stroke-dasharray="3.8 3.05" stroke-dashoffset="1.9"/><path d="M383.30 44.40V39.30H418.50V44.40" stroke="#111" stroke-width="1.1" fill="none"/><path d="M462.40 44.40V39.30H497.60V44.40" stroke="#111" stroke-width="1.1" fill="none"/><polygon points="395.14,31.95 395.64,33.01 396.81,33.16 395.95,33.96 396.17,35.12 395.14,34.55 394.12,35.12 394.34,33.96 393.48,33.16 394.65,33.01" fill="#111"/><polygon points="399.01,31.95 399.51,33.01 400.68,33.16 399.82,33.96 400.04,35.12 399.01,34.55 397.99,35.12 398.21,33.96 397.35,33.16 398.52,33.01" fill="#111"/><polygon points="402.88,31.95 403.38,33.01 404.55,33.16 403.69,33.96 403.91,35.12 402.88,34.55 401.86,35.12 402.08,33.96 401.22,33.16 402.39,33.01" fill="#111"/><polygon points="406.75,31.95 407.25,33.01 408.42,33.16 407.56,33.96 407.78,35.12 406.75,34.55 405.73,35.12 405.95,33.96 405.09,33.16 406.26,33.01" fill="#111"/><text x="480.55" y="35.10" font-size="9.8" text-anchor="middle">ns</text><text transform="translate(320.30 91.60) rotate(-90) scale(0.676 1)" font-size="12" font-weight="bold" text-anchor="middle">CD25 (%hi)</text></g><g><rect x="360.30" y="275.60" width="10.40" height="1.20" fill="#86a7c5" stroke="#6f96ba" stroke-width="0.6"/><circle cx="360.80" cy="275.80" r="1.45" fill="#0b4d96"/><circle cx="362.80" cy="274.30" r="1.45" fill="#0b4d96"/><circle cx="365.00" cy="275.60" r="1.45" fill="#0b4d96"/><circle cx="367.20" cy="274.30" r="1.45" fill="#0b4d96"/><circle cx="369.40" cy="275.60" r="1.45" fill="#0b4d96"/><circle cx="371.20" cy="274.80" r="1.45" fill="#0b4d96"/><path d="M365.50 275.20V276.30M362.60 275.20H368.40M362.60 276.30H368.40" stroke="#111" stroke-width="1" fill="none"/><rect x="378.30" y="233.00" width="10.40" height="43.80" fill="#86a7c5" stroke="#6f96ba" stroke-width="0.6"/><circle cx="383.60" cy="225.40" r="1.45" fill="#0b4d96"/><circle cx="378.30" cy="229.70" r="1.45" fill="#0b4d96"/><circle cx="388.40" cy="230.30" r="1.45" fill="#0b4d96"/><circle cx="383.60" cy="232.40" r="1.45" fill="#0b4d96"/><circle cx="383.60" cy="251.90" r="1.45" fill="#0b4d96"/><path d="M383.50 227.80V236.20M380.60 227.80H386.40M380.60 236.20H386.40" stroke="#111" stroke-width="1" fill="none"/><rect x="396.20" y="275.00" width="10.40" height="1.80" fill="#e08797" stroke="#d5718a" stroke-width="0.6"/><circle cx="396.30" cy="275.60" r="1.45" fill="#d4062c"/><circle cx="398.80" cy="273.80" r="1.45" fill="#d4062c"/><circle cx="401.40" cy="274.60" r="1.45" fill="#d4062c"/><circle cx="404.30" cy="274.20" r="1.45" fill="#d4062c"/><circle cx="406.30" cy="273.00" r="1.45" fill="#d4062c"/><circle cx="406.30" cy="275.80" r="1.45" fill="#d4062c"/><path d="M401.40 274.40V275.60M398.50 274.40H404.30M398.50 275.60H404.30" stroke="#111" stroke-width="1" fill="none"/><rect x="414.20" y="263.80" width="10.40" height="13.00" fill="#e08797" stroke="#d5718a" stroke-width="0.6"/><circle cx="416.80" cy="257.80" r="1.45" fill="#d4062c"/><circle cx="421.40" cy="257.80" r="1.45" fill="#d4062c"/><circle cx="419.50" cy="262.50" r="1.45" fill="#d4062c"/><circle cx="419.50" cy="266.70" r="1.45" fill="#d4062c"/><circle cx="419.50" cy="270.30" r="1.45" fill="#d4062c"/><path d="M419.40 260.60V266.30M416.50 260.60H422.30M416.50 266.30H422.30" stroke="#111" stroke-width="1" fill="none"/><rect x="439.30" y="272.80" width="10.40" height="4.00" fill="#86a7c5" stroke="#6f96ba" stroke-width="0.6"/><circle cx="439.80" cy="271.60" r="1.45" fill="#0b4d96"/><circle cx="446.30" cy="270.00" r="1.45" fill="#0b4d96"/><circle cx="443.10" cy="273.10" r="1.45" fill="#0b4d96"/><circle cx="449.60" cy="273.90" r="1.45" fill="#0b4d96"/><circle cx="439.80" cy="275.70" r="1.45" fill="#0b4d96"/><path d="M444.50 271.00V274.80M441.60 271.00H447.40M441.60 274.80H447.40" stroke="#111" stroke-width="1" fill="none"/><rect x="457.40" y="196.00" width="10.40" height="80.80" fill="#86a7c5" stroke="#6f96ba" stroke-width="0.6"/><circle cx="457.50" cy="194.70" r="1.45" fill="#0b4d96"/><circle cx="462.70" cy="193.20" r="1.45" fill="#0b4d96"/><circle cx="467.90" cy="193.20" r="1.45" fill="#0b4d96"/><circle cx="467.90" cy="196.00" r="1.45" fill="#0b4d96"/><circle cx="462.70" cy="203.80" r="1.45" fill="#0b4d96"/><path d="M462.60 193.00V198.50M459.70 193.00H465.50M459.70 198.50H465.50" stroke="#111" stroke-width="1" fill="none"/><rect x="475.20" y="275.80" width="10.40" height="1.00" fill="#e08797" stroke="#d5718a" stroke-width="0.6"/><circle cx="475.80" cy="275.70" r="1.45" fill="#d4062c"/><circle cx="477.70" cy="274.10" r="1.45" fill="#d4062c"/><circle cx="480.70" cy="275.60" r="1.45" fill="#d4062c"/><circle cx="483.90" cy="275.60" r="1.45" fill="#d4062c"/><circle cx="485.60" cy="275.20" r="1.45" fill="#d4062c"/><path d="M480.40 275.00V276.50M477.50 275.00H483.30M477.50 276.50H483.30" stroke="#111" stroke-width="1" fill="none"/><rect x="493.30" y="201.20" width="10.40" height="75.60" fill="#e08797" stroke="#d5718a" stroke-width="0.6"/><circle cx="498.30" cy="193.20" r="1.45" fill="#d4062c"/><circle cx="498.30" cy="196.70" r="1.45" fill="#d4062c"/><circle cx="494.50" cy="199.80" r="1.45" fill="#d4062c"/><circle cx="502.00" cy="199.80" r="1.45" fill="#d4062c"/><circle cx="498.30" cy="205.00" r="1.45" fill="#d4062c"/><circle cx="498.30" cy="209.50" r="1.45" fill="#d4062c"/><path d="M498.50 197.00V205.00M495.60 197.00H501.40M495.60 205.00H501.40" stroke="#111" stroke-width="1" fill="none"/><path d="M353.7 184.40V276.80H510.9" stroke="#000" stroke-width="1.1" fill="none"/><line x1="349.30" y1="276.80" x2="353.70" y2="276.80" stroke="#000" stroke-width="1"/><text transform="translate(346.3 280.00) scale(1.07 1)" font-size="9.5" text-anchor="end">0</text><line x1="349.30" y1="259.00" x2="353.70" y2="259.00" stroke="#000" stroke-width="1"/><text transform="translate(346.3 262.20) scale(1.07 1)" font-size="9.5" text-anchor="end">20</text><line x1="349.30" y1="241.20" x2="353.70" y2="241.20" stroke="#000" stroke-width="1"/><text transform="translate(346.3 244.40) scale(1.07 1)" font-size="9.5" text-anchor="end">40</text><line x1="349.30" y1="223.40" x2="353.70" y2="223.40" stroke="#000" stroke-width="1"/><text transform="translate(346.3 226.60) scale(1.07 1)" font-size="9.5" text-anchor="end">60</text><line x1="349.30" y1="205.60" x2="353.70" y2="205.60" stroke="#000" stroke-width="1"/><text transform="translate(346.3 208.80) scale(1.07 1)" font-size="9.5" text-anchor="end">80</text><line x1="349.30" y1="187.80" x2="353.70" y2="187.80" stroke="#000" stroke-width="1"/><text transform="translate(346.3 191.00) scale(1.07 1)" font-size="9.5" text-anchor="end">100</text><line x1="365.50" y1="276.80" x2="365.50" y2="281.00" stroke="#000" stroke-width="1"/><line x1="383.50" y1="276.80" x2="383.50" y2="281.00" stroke="#000" stroke-width="1"/><line x1="401.40" y1="276.80" x2="401.40" y2="281.00" stroke="#000" stroke-width="1"/><line x1="419.40" y1="276.80" x2="419.40" y2="281.00" stroke="#000" stroke-width="1"/><line x1="444.50" y1="276.80" x2="444.50" y2="281.00" stroke="#000" stroke-width="1"/><line x1="462.60" y1="276.80" x2="462.60" y2="281.00" stroke="#000" stroke-width="1"/><line x1="480.40" y1="276.80" x2="480.40" y2="281.00" stroke="#000" stroke-width="1"/><line x1="498.50" y1="276.80" x2="498.50" y2="281.00" stroke="#000" stroke-width="1"/><line x1="432.4" y1="187.50" x2="432.4" y2="276.30" stroke="#000" stroke-width="1.2" stroke-dasharray="3.8 3.05" stroke-dashoffset="1.9"/><path d="M383.30 183.70V178.30H418.50V183.70" stroke="#111" stroke-width="1.1" fill="none"/><path d="M462.40 183.70V178.30H497.60V183.70" stroke="#111" stroke-width="1.1" fill="none"/><polygon points="395.14,170.95 395.64,172.01 396.81,172.16 395.95,172.96 396.17,174.12 395.14,173.55 394.12,174.12 394.34,172.96 393.48,172.16 394.65,172.01" fill="#111"/><polygon points="399.01,170.95 399.51,172.01 400.68,172.16 399.82,172.96 400.04,174.12 399.01,173.55 397.99,174.12 398.21,172.96 397.35,172.16 398.52,172.01" fill="#111"/><polygon points="402.88,170.95 403.38,172.01 404.55,172.16 403.69,172.96 403.91,174.12 402.88,173.55 401.86,174.12 402.08,172.96 401.22,172.16 402.39,172.01" fill="#111"/><polygon points="406.75,170.95 407.25,172.01 408.42,172.16 407.56,172.96 407.78,174.12 406.75,173.55 405.73,174.12 405.95,172.96 405.09,172.16 406.26,172.01" fill="#111"/><text x="480.55" y="174.20" font-size="9.8" text-anchor="middle">ns</text><text transform="translate(320.30 231.30) rotate(-90) scale(0.676 1)" font-size="12" font-weight="bold" text-anchor="middle">CD71 high (%)</text></g><g><rect x="360.30" y="487.60" width="10.40" height="1.70" fill="#86a7c5" stroke="#6f96ba" stroke-width="0.6"/><circle cx="360.50" cy="487.30" r="1.45" fill="#0b4d96"/><circle cx="363.80" cy="485.20" r="1.45" fill="#0b4d96"/><circle cx="367.00" cy="487.00" r="1.45" fill="#0b4d96"/><circle cx="370.00" cy="486.20" r="1.45" fill="#0b4d96"/><path d="M365.50 486.00V488.40M362.60 486.00H368.40M362.60 488.40H368.40" stroke="#111" stroke-width="1" fill="none"/><rect x="378.30" y="434.40" width="10.40" height="54.90" fill="#86a7c5" stroke="#6f96ba" stroke-width="0.6"/><circle cx="380.60" cy="422.80" r="1.45" fill="#0b4d96"/><circle cx="385.50" cy="420.30" r="1.45" fill="#0b4d96"/><circle cx="383.20" cy="444.50" r="1.45" fill="#0b4d96"/><circle cx="383.20" cy="447.80" r="1.45" fill="#0b4d96"/><path d="M383.50 426.70V441.40M380.60 426.70H386.40M380.60 441.40H386.40" stroke="#111" stroke-width="1" fill="none"/><rect x="396.20" y="486.20" width="10.40" height="3.10" fill="#e08797" stroke="#d5718a" stroke-width="0.6"/><circle cx="396.70" cy="486.80" r="1.45" fill="#d4062c"/><circle cx="399.80" cy="484.00" r="1.45" fill="#d4062c"/><circle cx="402.50" cy="486.60" r="1.45" fill="#d4062c"/><circle cx="405.50" cy="486.60" r="1.45" fill="#d4062c"/><path d="M401.40 485.00V487.40M398.50 485.00H404.30M398.50 487.40H404.30" stroke="#111" stroke-width="1" fill="none"/><rect x="414.20" y="466.30" width="10.40" height="23.00" fill="#e08797" stroke="#d5718a" stroke-width="0.6"/><circle cx="419.10" cy="452.90" r="1.45" fill="#d4062c"/><circle cx="419.10" cy="461.80" r="1.45" fill="#d4062c"/><circle cx="419.10" cy="469.70" r="1.45" fill="#d4062c"/><circle cx="419.10" cy="479.20" r="1.45" fill="#d4062c"/><path d="M419.40 460.10V471.40M416.50 460.10H422.30M416.50 471.40H422.30" stroke="#111" stroke-width="1" fill="none"/><rect x="439.30" y="488.80" width="10.40" height="0.50" fill="#86a7c5" stroke="#6f96ba" stroke-width="0.6"/><circle cx="440.00" cy="488.20" r="1.45" fill="#0b4d96"/><circle cx="444.00" cy="488.20" r="1.45" fill="#0b4d96"/><circle cx="448.00" cy="488.20" r="1.45" fill="#0b4d96"/><circle cx="452.00" cy="488.20" r="1.45" fill="#0b4d96"/><path d="M444.50 488.30V489.00M441.60 488.30H447.40M441.60 489.00H447.40" stroke="#111" stroke-width="1" fill="none"/><rect x="457.40" y="429.00" width="10.40" height="60.30" fill="#86a7c5" stroke="#6f96ba" stroke-width="0.6"/><circle cx="458.00" cy="426.30" r="1.45" fill="#0b4d96"/><circle cx="462.60" cy="426.00" r="1.45" fill="#0b4d96"/><circle cx="467.50" cy="426.30" r="1.45" fill="#0b4d96"/><circle cx="462.60" cy="436.50" r="1.45" fill="#0b4d96"/><path d="M462.60 426.30V431.20M459.70 426.30H465.50M459.70 431.20H465.50" stroke="#111" stroke-width="1" fill="none"/><rect x="475.20" y="487.50" width="10.40" height="1.80" fill="#e08797" stroke="#d5718a" stroke-width="0.6"/><circle cx="475.40" cy="487.30" r="1.45" fill="#d4062c"/><circle cx="480.00" cy="487.80" r="1.45" fill="#d4062c"/><circle cx="484.50" cy="487.50" r="1.45" fill="#d4062c"/><circle cx="476.00" cy="485.50" r="1.45" fill="#d4062c"/><path d="M480.40 486.30V488.40M477.50 486.30H483.30M477.50 488.40H483.30" stroke="#111" stroke-width="1" fill="none"/><rect x="493.30" y="427.90" width="10.40" height="61.40" fill="#e08797" stroke="#d5718a" stroke-width="0.6"/><circle cx="498.30" cy="413.90" r="1.45" fill="#d4062c"/><circle cx="495.00" cy="428.30" r="1.45" fill="#d4062c"/><circle cx="502.00" cy="428.30" r="1.45" fill="#d4062c"/><circle cx="498.30" cy="441.00" r="1.45" fill="#d4062c"/><path d="M498.50 421.70V432.80M495.60 421.70H501.40M495.60 432.80H501.40" stroke="#111" stroke-width="1" fill="none"/><path d="M353.7 395.40V489.30H510.9" stroke="#000" stroke-width="1.1" fill="none"/><line x1="349.30" y1="489.30" x2="353.70" y2="489.30" stroke="#000" stroke-width="1"/><text transform="translate(346.3 492.50) scale(1.07 1)" font-size="9.5" text-anchor="end">0</text><line x1="349.30" y1="471.58" x2="353.70" y2="471.58" stroke="#000" stroke-width="1"/><text transform="translate(346.3 474.78) scale(1.07 1)" font-size="9.5" text-anchor="end">20</text><line x1="349.30" y1="453.86" x2="353.70" y2="453.86" stroke="#000" stroke-width="1"/><text transform="translate(346.3 457.06) scale(1.07 1)" font-size="9.5" text-anchor="end">40</text><line x1="349.30" y1="436.14" x2="353.70" y2="436.14" stroke="#000" stroke-width="1"/><text transform="translate(346.3 439.34) scale(1.07 1)" font-size="9.5" text-anchor="end">60</text><line x1="349.30" y1="418.42" x2="353.70" y2="418.42" stroke="#000" stroke-width="1"/><text transform="translate(346.3 421.62) scale(1.07 1)" font-size="9.5" text-anchor="end">80</text><line x1="349.30" y1="400.70" x2="353.70" y2="400.70" stroke="#000" stroke-width="1"/><text transform="translate(346.3 403.90) scale(1.07 1)" font-size="9.5" text-anchor="end">100</text><line x1="365.50" y1="489.30" x2="365.50" y2="493.50" stroke="#000" stroke-width="1"/><line x1="383.50" y1="489.30" x2="383.50" y2="493.50" stroke="#000" stroke-width="1"/><line x1="401.40" y1="489.30" x2="401.40" y2="493.50" stroke="#000" stroke-width="1"/><line x1="419.40" y1="489.30" x2="419.40" y2="493.50" stroke="#000" stroke-width="1"/><line x1="444.50" y1="489.30" x2="444.50" y2="493.50" stroke="#000" stroke-width="1"/><line x1="462.60" y1="489.30" x2="462.60" y2="493.50" stroke="#000" stroke-width="1"/><line x1="480.40" y1="489.30" x2="480.40" y2="493.50" stroke="#000" stroke-width="1"/><line x1="498.50" y1="489.30" x2="498.50" y2="493.50" stroke="#000" stroke-width="1"/><line x1="432.4" y1="400.40" x2="432.4" y2="488.80" stroke="#000" stroke-width="1.2" stroke-dasharray="3.8 3.05" stroke-dashoffset="1.9"/><path d="M383.30 396.30V391.30H418.50V396.30" stroke="#111" stroke-width="1.1" fill="none"/><path d="M462.40 396.30V391.30H497.60V396.30" stroke="#111" stroke-width="1.1" fill="none"/><polygon points="395.14,383.95 395.64,385.01 396.81,385.16 395.95,385.96 396.17,387.12 395.14,386.55 394.12,387.12 394.34,385.96 393.48,385.16 394.65,385.01" fill="#111"/><polygon points="399.01,383.95 399.51,385.01 400.68,385.16 399.82,385.96 400.04,387.12 399.01,386.55 397.99,387.12 398.21,385.96 397.35,385.16 398.52,385.01" fill="#111"/><polygon points="402.88,383.95 403.38,385.01 404.55,385.16 403.69,385.96 403.91,387.12 402.88,386.55 401.86,387.12 402.08,385.96 401.22,385.16 402.39,385.01" fill="#111"/><polygon points="406.75,383.95 407.25,385.01 408.42,385.16 407.56,385.96 407.78,387.12 406.75,386.55 405.73,387.12 405.95,385.96 405.09,385.16 406.26,385.01" fill="#111"/><text x="480.55" y="386.90" font-size="9.8" text-anchor="middle">ns</text><text transform="translate(320.30 443.00) rotate(-90) scale(0.676 1)" font-size="12" font-weight="bold" text-anchor="middle">GLUT-1 (%hi)</text></g><g><rect x="360.30" y="663.20" width="10.40" height="6.20" fill="#86a7c5" stroke="#6f96ba" stroke-width="0.6"/><circle cx="365.20" cy="650.80" r="1.45" fill="#0b4d96"/><circle cx="365.20" cy="658.60" r="1.45" fill="#0b4d96"/><circle cx="365.20" cy="662.80" r="1.45" fill="#0b4d96"/><circle cx="365.20" cy="666.30" r="1.45" fill="#0b4d96"/><circle cx="360.50" cy="668.40" r="1.45" fill="#0b4d96"/><circle cx="370.00" cy="668.40" r="1.45" fill="#0b4d96"/><path d="M365.50 659.40V665.30M362.60 659.40H368.40M362.60 665.30H368.40" stroke="#111" stroke-width="1" fill="none"/><rect x="378.30" y="623.10" width="10.40" height="46.30" fill="#86a7c5" stroke="#6f96ba" stroke-width="0.6"/><circle cx="380.40" cy="613.30" r="1.45" fill="#0b4d96"/><circle cx="385.60" cy="610.70" r="1.45" fill="#0b4d96"/><circle cx="385.60" cy="614.30" r="1.45" fill="#0b4d96"/><circle cx="383.00" cy="626.80" r="1.45" fill="#0b4d96"/><circle cx="383.00" cy="631.90" r="1.45" fill="#0b4d96"/><circle cx="383.00" cy="635.60" r="1.45" fill="#0b4d96"/><path d="M383.50 618.00V626.80M380.60 618.00H386.40M380.60 626.80H386.40" stroke="#111" stroke-width="1" fill="none"/><rect x="396.20" y="664.20" width="10.40" height="5.20" fill="#e08797" stroke="#d5718a" stroke-width="0.6"/><circle cx="401.20" cy="655.00" r="1.45" fill="#d4062c"/><circle cx="401.20" cy="660.00" r="1.45" fill="#d4062c"/><circle cx="397.50" cy="666.00" r="1.45" fill="#d4062c"/><circle cx="405.00" cy="666.00" r="1.45" fill="#d4062c"/><circle cx="401.00" cy="669.00" r="1.45" fill="#d4062c"/><circle cx="403.00" cy="668.00" r="1.45" fill="#d4062c"/><path d="M401.40 661.30V665.60M398.50 661.30H404.30M398.50 665.60H404.30" stroke="#111" stroke-width="1" fill="none"/><rect x="414.20" y="654.80" width="10.40" height="14.60" fill="#e08797" stroke="#d5718a" stroke-width="0.6"/><circle cx="419.10" cy="640.40" r="1.45" fill="#d4062c"/><circle cx="419.10" cy="644.80" r="1.45" fill="#d4062c"/><circle cx="419.10" cy="658.90" r="1.45" fill="#d4062c"/><circle cx="416.00" cy="664.00" r="1.45" fill="#d4062c"/><circle cx="421.70" cy="662.30" r="1.45" fill="#d4062c"/><path d="M419.40 649.30V658.80M416.50 649.30H422.30M416.50 658.80H422.30" stroke="#111" stroke-width="1" fill="none"/><rect x="439.30" y="656.40" width="10.40" height="13.00" fill="#86a7c5" stroke="#6f96ba" stroke-width="0.6"/><circle cx="444.40" cy="637.80" r="1.45" fill="#0b4d96"/><circle cx="444.40" cy="646.20" r="1.45" fill="#0b4d96"/><circle cx="444.40" cy="656.20" r="1.45" fill="#0b4d96"/><circle cx="444.40" cy="660.00" r="1.45" fill="#0b4d96"/><circle cx="440.80" cy="667.00" r="1.45" fill="#0b4d96"/><circle cx="447.50" cy="667.00" r="1.45" fill="#0b4d96"/><path d="M444.50 651.00V659.70M441.60 651.00H447.40M441.60 659.70H447.40" stroke="#111" stroke-width="1" fill="none"/><rect x="457.40" y="591.90" width="10.40" height="77.50" fill="#86a7c5" stroke="#6f96ba" stroke-width="0.6"/><circle cx="457.80" cy="584.00" r="1.45" fill="#0b4d96"/><circle cx="462.60" cy="585.40" r="1.45" fill="#0b4d96"/><circle cx="467.50" cy="585.00" r="1.45" fill="#0b4d96"/><circle cx="467.50" cy="591.00" r="1.45" fill="#0b4d96"/><circle cx="462.60" cy="593.50" r="1.45" fill="#0b4d96"/><circle cx="462.60" cy="608.50" r="1.45" fill="#0b4d96"/><path d="M462.60 587.50V595.10M459.70 587.50H465.50M459.70 595.10H465.50" stroke="#111" stroke-width="1" fill="none"/><rect x="475.20" y="645.00" width="10.40" height="24.40" fill="#e08797" stroke="#d5718a" stroke-width="0.6"/><circle cx="480.30" cy="605.00" r="1.45" fill="#d4062c"/><circle cx="480.30" cy="633.50" r="1.45" fill="#d4062c"/><circle cx="480.30" cy="644.00" r="1.45" fill="#d4062c"/><circle cx="480.30" cy="654.00" r="1.45" fill="#d4062c"/><circle cx="480.30" cy="663.00" r="1.45" fill="#d4062c"/><circle cx="480.30" cy="667.30" r="1.45" fill="#d4062c"/><path d="M480.40 634.90V654.00M477.50 634.90H483.30M477.50 654.00H483.30" stroke="#111" stroke-width="1" fill="none"/><rect x="493.30" y="591.00" width="10.40" height="78.40" fill="#e08797" stroke="#d5718a" stroke-width="0.6"/><circle cx="493.60" cy="588.50" r="1.45" fill="#d4062c"/><circle cx="497.00" cy="586.50" r="1.45" fill="#d4062c"/><circle cx="500.00" cy="589.00" r="1.45" fill="#d4062c"/><circle cx="503.00" cy="588.80" r="1.45" fill="#d4062c"/><circle cx="496.00" cy="595.80" r="1.45" fill="#d4062c"/><circle cx="501.00" cy="595.80" r="1.45" fill="#d4062c"/><path d="M498.50 588.60V591.40M495.60 588.60H501.40M495.60 591.40H501.40" stroke="#111" stroke-width="1" fill="none"/><path d="M353.7 575.20V669.40H510.9" stroke="#000" stroke-width="1.1" fill="none"/><line x1="349.30" y1="669.40" x2="353.70" y2="669.40" stroke="#000" stroke-width="1"/><text transform="translate(346.3 672.60) scale(1.07 1)" font-size="9.5" text-anchor="end">0</text><line x1="349.30" y1="651.62" x2="353.70" y2="651.62" stroke="#000" stroke-width="1"/><text transform="translate(346.3 654.82) scale(1.07 1)" font-size="9.5" text-anchor="end">20</text><line x1="349.30" y1="633.84" x2="353.70" y2="633.84" stroke="#000" stroke-width="1"/><text transform="translate(346.3 637.04) scale(1.07 1)" font-size="9.5" text-anchor="end">40</text><line x1="349.30" y1="616.06" x2="353.70" y2="616.06" stroke="#000" stroke-width="1"/><text transform="translate(346.3 619.26) scale(1.07 1)" font-size="9.5" text-anchor="end">60</text><line x1="349.30" y1="598.28" x2="353.70" y2="598.28" stroke="#000" stroke-width="1"/><text transform="translate(346.3 601.48) scale(1.07 1)" font-size="9.5" text-anchor="end">80</text><line x1="349.30" y1="580.50" x2="353.70" y2="580.50" stroke="#000" stroke-width="1"/><text transform="translate(346.3 583.70) scale(1.07 1)" font-size="9.5" text-anchor="end">100</text><line x1="365.50" y1="669.40" x2="365.50" y2="673.60" stroke="#000" stroke-width="1"/><line x1="383.50" y1="669.40" x2="383.50" y2="673.60" stroke="#000" stroke-width="1"/><line x1="401.40" y1="669.40" x2="401.40" y2="673.60" stroke="#000" stroke-width="1"/><line x1="419.40" y1="669.40" x2="419.40" y2="673.60" stroke="#000" stroke-width="1"/><line x1="444.50" y1="669.40" x2="444.50" y2="673.60" stroke="#000" stroke-width="1"/><line x1="462.60" y1="669.40" x2="462.60" y2="673.60" stroke="#000" stroke-width="1"/><line x1="480.40" y1="669.40" x2="480.40" y2="673.60" stroke="#000" stroke-width="1"/><line x1="498.50" y1="669.40" x2="498.50" y2="673.60" stroke="#000" stroke-width="1"/><line x1="432.4" y1="580.20" x2="432.4" y2="668.90" stroke="#000" stroke-width="1.2" stroke-dasharray="3.8 3.05" stroke-dashoffset="1.9"/><path d="M383.30 576.40V571.50H418.50V576.40" stroke="#111" stroke-width="1.1" fill="none"/><path d="M462.40 576.40V571.50H497.60V576.40" stroke="#111" stroke-width="1.1" fill="none"/><polygon points="397.08,564.15 397.58,565.21 398.74,565.36 397.89,566.16 398.11,567.32 397.08,566.75 396.05,567.32 396.27,566.16 395.42,565.36 396.58,565.21" fill="#111"/><polygon points="400.95,564.15 401.45,565.21 402.61,565.36 401.76,566.16 401.98,567.32 400.95,566.75 399.92,567.32 400.14,566.16 399.29,565.36 400.45,565.21" fill="#111"/><polygon points="404.82,564.15 405.32,565.21 406.48,565.36 405.63,566.16 405.85,567.32 404.82,566.75 403.79,567.32 404.01,566.16 403.16,565.36 404.32,565.21" fill="#111"/><text x="480.55" y="568.50" font-size="9.8" text-anchor="middle">ns</text><text transform="translate(320.30 622.40) rotate(-90) scale(0.676 1)" font-size="12" font-weight="bold" text-anchor="middle">2-NBDG high (%)</text></g><g fill="#111"><text x="365.50" y="504.90" font-size="10" text-anchor="middle">&#8722;</text><text x="383.50" y="504.90" font-size="10" text-anchor="middle">+</text><text x="401.40" y="504.90" font-size="10" text-anchor="middle">&#8722;</text><text x="419.40" y="504.90" font-size="10" text-anchor="middle">+</text><text x="444.50" y="504.90" font-size="10" text-anchor="middle">&#8722;</text><text x="462.60" y="504.90" font-size="10" text-anchor="middle">+</text><text x="480.40" y="504.90" font-size="10" text-anchor="middle">&#8722;</text><text x="498.50" y="504.90" font-size="10" text-anchor="middle">+</text><line x1="359" y1="508.00" x2="426" y2="508.00" stroke="#333" stroke-width="1.3"/><line x1="439.7" y1="508.00" x2="506.3" y2="508.00" stroke="#333" stroke-width="1.3"/><text x="392.2" y="519.00" font-size="9.7" text-anchor="middle">PBMC pool</text><text x="473.1" y="519.00" font-size="9.7" text-anchor="middle">Sorted</text><line x1="359" y1="522.80" x2="389" y2="522.80" stroke="#333" stroke-width="1.3"/><line x1="395.9" y1="522.80" x2="426" y2="522.80" stroke="#333" stroke-width="1.3"/><line x1="439.7" y1="522.80" x2="469.7" y2="522.80" stroke="#333" stroke-width="1.3"/><line x1="476.4" y1="522.80" x2="506.3" y2="522.80" stroke="#333" stroke-width="1.3"/><text x="374" y="535.10" font-size="9.7" text-anchor="middle">HD</text><text x="411" y="535.10" font-size="9.7" text-anchor="middle">CLL</text><text x="454.4" y="535.10" font-size="9.7" text-anchor="middle">HD</text><text x="491.6" y="535.10" font-size="9.7" text-anchor="middle">CLL</text></g><g fill="#111"><text x="365.50" y="685.00" font-size="10" text-anchor="middle">&#8722;</text><text x="383.50" y="685.00" font-size="10" text-anchor="middle">+</text><text x="401.40" y="685.00" font-size="10" text-anchor="middle">&#8722;</text><text x="419.40" y="685.00" font-size="10" text-anchor="middle">+</text><text x="444.50" y="685.00" font-size="10" text-anchor="middle">&#8722;</text><text x="462.60" y="685.00" font-size="10" text-anchor="middle">+</text><text x="480.40" y="685.00" font-size="10" text-anchor="middle">&#8722;</text><text x="498.50" y="685.00" font-size="10" text-anchor="middle">+</text><line x1="359" y1="688.10" x2="426" y2="688.10" stroke="#333" stroke-width="1.3"/><line x1="439.7" y1="688.10" x2="506.3" y2="688.10" stroke="#333" stroke-width="1.3"/><text x="392.2" y="699.10" font-size="9.7" text-anchor="middle">PBMC pool</text><text x="473.1" y="699.10" font-size="9.7" text-anchor="middle">Sorted</text><line x1="359" y1="702.90" x2="389" y2="702.90" stroke="#333" stroke-width="1.3"/><line x1="395.9" y1="702.90" x2="426" y2="702.90" stroke="#333" stroke-width="1.3"/><line x1="439.7" y1="702.90" x2="469.7" y2="702.90" stroke="#333" stroke-width="1.3"/><line x1="476.4" y1="702.90" x2="506.3" y2="702.90" stroke="#333" stroke-width="1.3"/><text x="374" y="715.20" font-size="9.7" text-anchor="middle">HD</text><text x="411" y="715.20" font-size="9.7" text-anchor="middle">CLL</text><text x="454.4" y="715.20" font-size="9.7" text-anchor="middle">HD</text><text x="491.6" y="715.20" font-size="9.7" text-anchor="middle">CLL</text></g><text x="365.4" y="739.8" font-size="9.2" textLength="67.7" lengthAdjust="spacingAndGlyphs">&#8722; = Unstimulated</text><text x="367.3" y="756.3" font-size="9.2" textLength="80.7" lengthAdjust="spacingAndGlyphs">+ = aCD3 + aCD28</text><rect x="469" y="731.5" width="10.2" height="10" fill="#cc1436"/><rect x="469" y="747.9" width="10.2" height="10" fill="#17508a"/><text x="484" y="739.9" font-size="9">CLL</text><text x="484" y="756.3" font-size="9">HD</text><path d="M0.75 0.75H519.25V767.25H0.75Z" fill="none" stroke="#000" stroke-width="1.5"/></svg>
</body></html>
